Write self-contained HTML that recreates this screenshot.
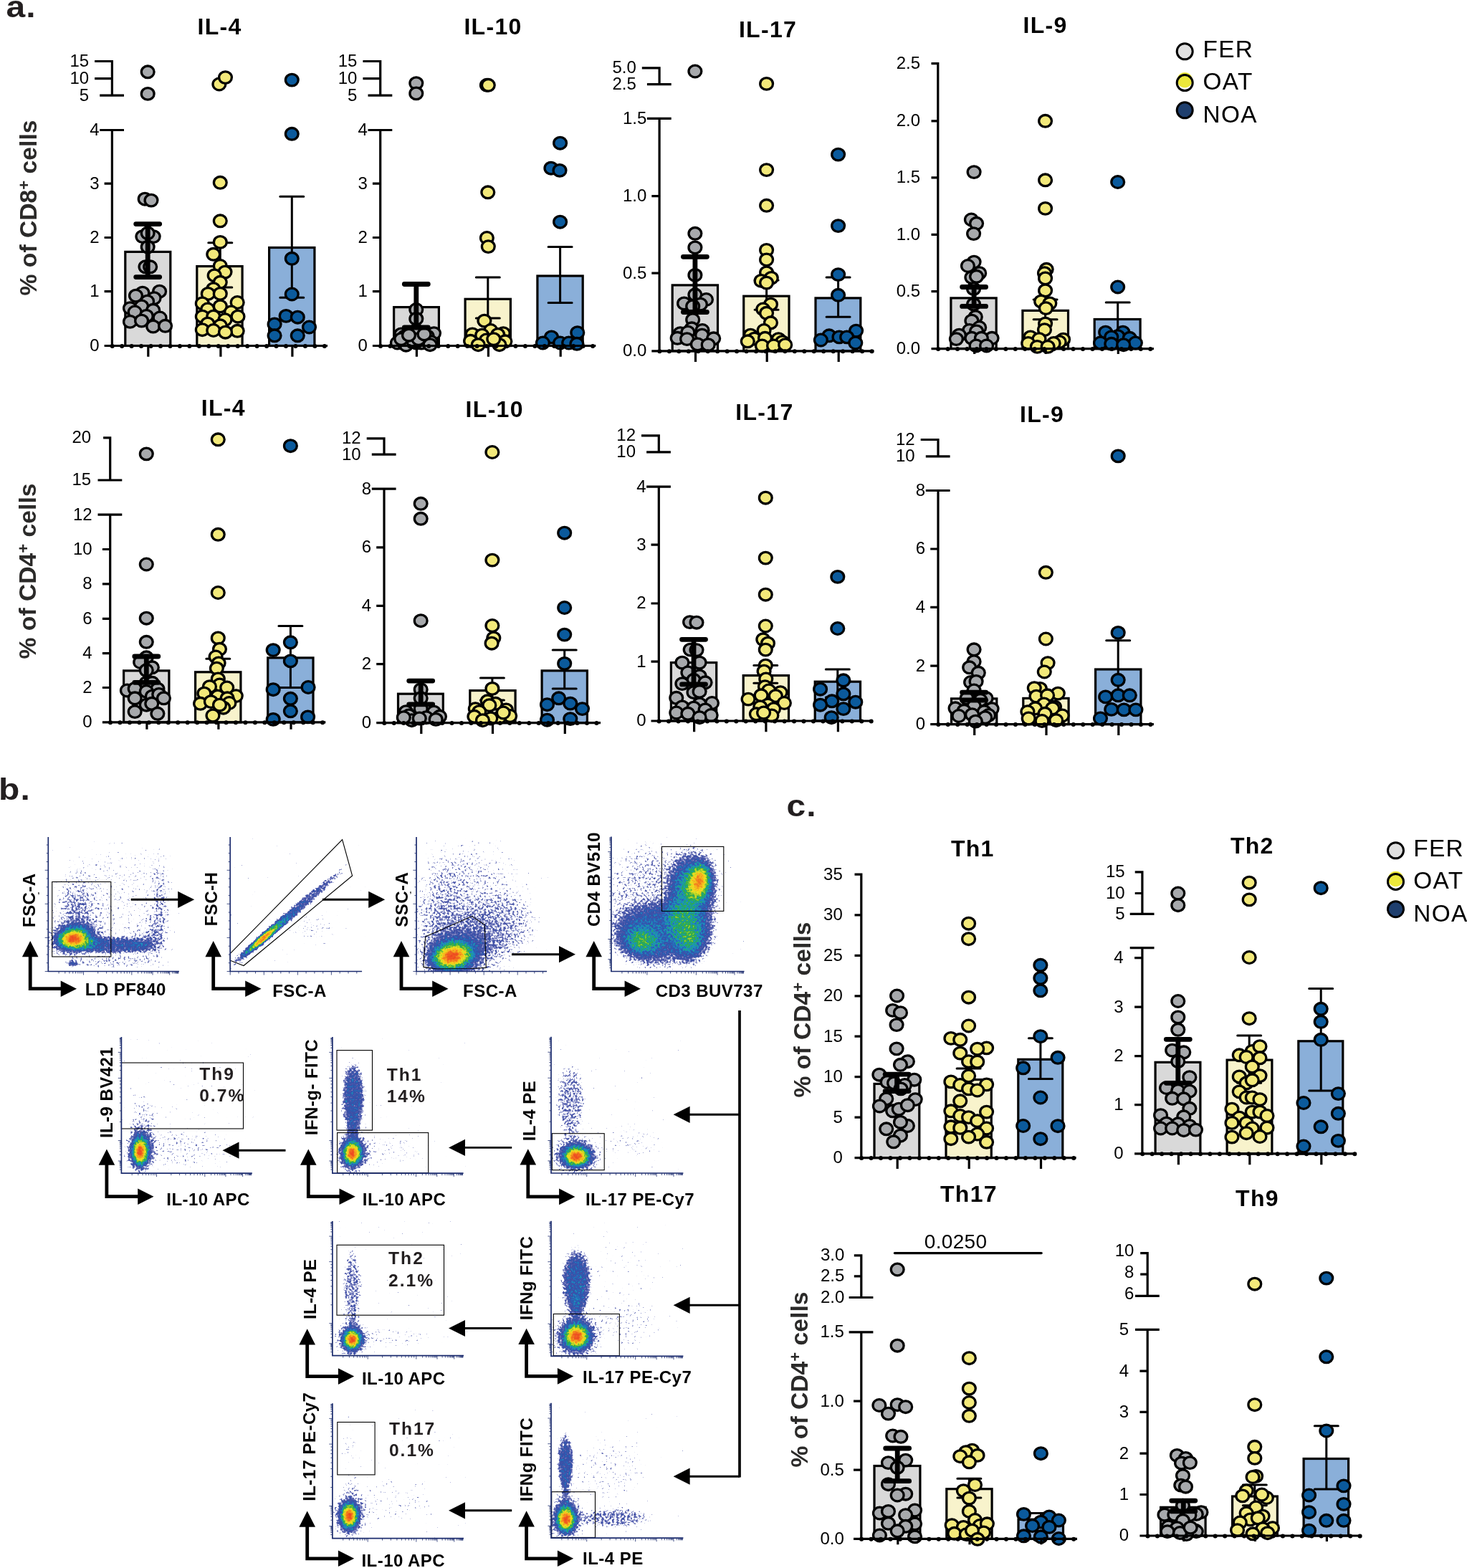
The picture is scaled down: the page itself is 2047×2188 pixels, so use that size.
<!DOCTYPE html>
<html><head><meta charset="utf-8"><title>Figure</title>
<style>
html,body{margin:0;padding:0;background:#fff}
svg{display:block}
text{font-family:"Liberation Sans",sans-serif;fill:#000}
.ttl{font-weight:bold;font-size:32px;letter-spacing:1.3px;text-anchor:middle}
.tl text{font-size:24px;text-anchor:end}
.sig{font-size:28px;letter-spacing:0.3px;text-anchor:middle}
.bar{stroke:#000;stroke-width:3.2}
.dot ellipse{stroke:#000;stroke-width:3.3}
.err{stroke:#000;fill:none;stroke-linecap:round}
.axl{stroke:#000;stroke-width:3.2;fill:none}
.axd{stroke:#000;stroke-width:6;stroke-linecap:round;stroke-dasharray:0.01 13.45;fill:none}
.yl{font-weight:bold;font-size:33.7px;fill:#2b2a29;text-anchor:middle}
.pl{font-weight:bold;font-size:42.5px;letter-spacing:1px;fill:#231f20}
.lg{font-size:33.4px;letter-spacing:1.3px}
.fl{font-weight:bold;font-size:24px;letter-spacing:0.45px}
.ft{font-weight:bold;font-size:24.6px;letter-spacing:2px;fill:#231f20}
.gate{fill:none;stroke:#000;stroke-width:1.1}
.fax{fill:none;stroke:#1c2c6e;stroke-width:1.7}
.ftk{fill:none;stroke:#1c2c6e;stroke-width:0.8}
.larr{fill:none;stroke:#000;stroke-width:4.8;stroke-linejoin:miter}
.arl{fill:none;stroke:#000;stroke-width:2.9}
</style></head><body>
<svg width="2047" height="2188" viewBox="0 0 2047 2188">
<defs>
<radialGradient id="G"><stop offset="0" stop-color="#3a50a8" stop-opacity="1"/><stop offset="0.083" stop-color="#3a50a8" stop-opacity="0.969"/><stop offset="0.167" stop-color="#3a50a8" stop-opacity="0.882"/><stop offset="0.25" stop-color="#3a50a8" stop-opacity="0.755"/><stop offset="0.333" stop-color="#3a50a8" stop-opacity="0.607"/><stop offset="0.417" stop-color="#3a50a8" stop-opacity="0.458"/><stop offset="0.5" stop-color="#3a50a8" stop-opacity="0.325"/><stop offset="0.583" stop-color="#3a50a8" stop-opacity="0.216"/><stop offset="0.667" stop-color="#3a50a8" stop-opacity="0.135"/><stop offset="0.75" stop-color="#3a50a8" stop-opacity="0.08"/><stop offset="0.833" stop-color="#3a50a8" stop-opacity="0.044"/><stop offset="0.917" stop-color="#3a50a8" stop-opacity="0.023"/><stop offset="1" stop-color="#3a50a8" stop-opacity="0"/></radialGradient><radialGradient id="F"><stop offset="0" stop-color="#3a50a8" stop-opacity="1"/><stop offset="0.5" stop-color="#3a50a8" stop-opacity="0.95"/><stop offset="0.7" stop-color="#3a50a8" stop-opacity="0.7"/><stop offset="0.85" stop-color="#3a50a8" stop-opacity="0.35"/><stop offset="1" stop-color="#3a50a8" stop-opacity="0"/></radialGradient><filter id="pc1" filterUnits="userSpaceOnUse" x="68.2" y="1168.5" width="186.1" height="186.1" color-interpolation-filters="sRGB"><feTurbulence type="fractalNoise" baseFrequency="0.33" numOctaves="2" seed="4" result="n"/><feColorMatrix in="n" type="matrix" values="0 0 0 0 0 0 0 0 0 0 0 0 0 0 0 1 0 0 0 0" result="a"/><feComposite in="SourceGraphic" in2="a" operator="arithmetic" k1="-0.58" k2="1.29" k3="0.7" k4="-0.41"/><feColorMatrix type="matrix" values="0 0 0 1 0 0 0 0 1 0 0 0 0 1 0 0 0 0 0 1"/><feComponentTransfer><feFuncR type="table" tableValues="1 1 1 1 1 1 1 1 1 0.81 0.63 0.53 0.44 0.37 0.33 0.28 0.25 0.24 0.22 0.2 0.19 0.17 0.16 0.14 0.13 0.11 0.11 0.12 0.13 0.16 0.2 0.34 0.48 0.61 0.72 0.83 0.94 0.95 0.95 0.96 0.96 0.96 0.95 0.95 0.94 0.94 0.93 0.93 0.93 0.92 0.92"/><feFuncG type="table" tableValues="1 1 1 1 1 1 1 1 1 0.82 0.65 0.56 0.47 0.41 0.37 0.33 0.32 0.32 0.32 0.33 0.36 0.38 0.41 0.47 0.52 0.58 0.61 0.63 0.65 0.66 0.67 0.72 0.76 0.8 0.83 0.86 0.89 0.84 0.78 0.72 0.67 0.59 0.51 0.44 0.36 0.33 0.3 0.27 0.25 0.22 0.19"/><feFuncB type="table" tableValues="1 1 1 1 1 1 1 1 1 0.92 0.83 0.78 0.73 0.7 0.68 0.66 0.65 0.66 0.67 0.67 0.69 0.71 0.73 0.73 0.74 0.75 0.65 0.54 0.45 0.36 0.27 0.24 0.21 0.18 0.16 0.14 0.12 0.12 0.12 0.12 0.12 0.12 0.12 0.12 0.13 0.13 0.13 0.13 0.13 0.13 0.13"/></feComponentTransfer><feGaussianBlur stdDeviation="0.75"/></filter><filter id="pc2" filterUnits="userSpaceOnUse" x="322.1" y="1168.5" width="187.4" height="186.1" color-interpolation-filters="sRGB"><feTurbulence type="fractalNoise" baseFrequency="0.33" numOctaves="2" seed="5" result="n"/><feColorMatrix in="n" type="matrix" values="0 0 0 0 0 0 0 0 0 0 0 0 0 0 0 1 0 0 0 0" result="a"/><feComposite in="SourceGraphic" in2="a" operator="arithmetic" k1="-0.58" k2="1.29" k3="0.7" k4="-0.41"/><feColorMatrix type="matrix" values="0 0 0 1 0 0 0 0 1 0 0 0 0 1 0 0 0 0 0 1"/><feComponentTransfer><feFuncR type="table" tableValues="1 1 1 1 1 1 1 1 1 0.81 0.63 0.53 0.44 0.37 0.33 0.28 0.25 0.24 0.22 0.2 0.19 0.17 0.16 0.14 0.13 0.11 0.11 0.12 0.13 0.16 0.2 0.34 0.48 0.61 0.72 0.83 0.94 0.95 0.95 0.96 0.96 0.96 0.95 0.95 0.94 0.94 0.93 0.93 0.93 0.92 0.92"/><feFuncG type="table" tableValues="1 1 1 1 1 1 1 1 1 0.82 0.65 0.56 0.47 0.41 0.37 0.33 0.32 0.32 0.32 0.33 0.36 0.38 0.41 0.47 0.52 0.58 0.61 0.63 0.65 0.66 0.67 0.72 0.76 0.8 0.83 0.86 0.89 0.84 0.78 0.72 0.67 0.59 0.51 0.44 0.36 0.33 0.3 0.27 0.25 0.22 0.19"/><feFuncB type="table" tableValues="1 1 1 1 1 1 1 1 1 0.92 0.83 0.78 0.73 0.7 0.68 0.66 0.65 0.66 0.67 0.67 0.69 0.71 0.73 0.73 0.74 0.75 0.65 0.54 0.45 0.36 0.27 0.24 0.21 0.18 0.16 0.14 0.12 0.12 0.12 0.12 0.12 0.12 0.12 0.12 0.13 0.13 0.13 0.13 0.13 0.13 0.13"/></feComponentTransfer><feGaussianBlur stdDeviation="0.75"/></filter><filter id="pc3" filterUnits="userSpaceOnUse" x="581.9" y="1168.5" width="185.6" height="186.1" color-interpolation-filters="sRGB"><feTurbulence type="fractalNoise" baseFrequency="0.33" numOctaves="2" seed="6" result="n"/><feColorMatrix in="n" type="matrix" values="0 0 0 0 0 0 0 0 0 0 0 0 0 0 0 1 0 0 0 0" result="a"/><feComposite in="SourceGraphic" in2="a" operator="arithmetic" k1="-0.58" k2="1.29" k3="0.7" k4="-0.41"/><feColorMatrix type="matrix" values="0 0 0 1 0 0 0 0 1 0 0 0 0 1 0 0 0 0 0 1"/><feComponentTransfer><feFuncR type="table" tableValues="1 1 1 1 1 1 1 1 1 0.81 0.63 0.53 0.44 0.37 0.33 0.28 0.25 0.24 0.22 0.2 0.19 0.17 0.16 0.14 0.13 0.11 0.11 0.12 0.13 0.16 0.2 0.34 0.48 0.61 0.72 0.83 0.94 0.95 0.95 0.96 0.96 0.96 0.95 0.95 0.94 0.94 0.93 0.93 0.93 0.92 0.92"/><feFuncG type="table" tableValues="1 1 1 1 1 1 1 1 1 0.82 0.65 0.56 0.47 0.41 0.37 0.33 0.32 0.32 0.32 0.33 0.36 0.38 0.41 0.47 0.52 0.58 0.61 0.63 0.65 0.66 0.67 0.72 0.76 0.8 0.83 0.86 0.89 0.84 0.78 0.72 0.67 0.59 0.51 0.44 0.36 0.33 0.3 0.27 0.25 0.22 0.19"/><feFuncB type="table" tableValues="1 1 1 1 1 1 1 1 1 0.92 0.83 0.78 0.73 0.7 0.68 0.66 0.65 0.66 0.67 0.67 0.69 0.71 0.73 0.73 0.74 0.75 0.65 0.54 0.45 0.36 0.27 0.24 0.21 0.18 0.16 0.14 0.12 0.12 0.12 0.12 0.12 0.12 0.12 0.12 0.13 0.13 0.13 0.13 0.13 0.13 0.13"/></feComponentTransfer><feGaussianBlur stdDeviation="0.75"/></filter><filter id="pc4" filterUnits="userSpaceOnUse" x="853.8" y="1168" width="189.1" height="186.6" color-interpolation-filters="sRGB"><feTurbulence type="fractalNoise" baseFrequency="0.33" numOctaves="2" seed="7" result="n"/><feColorMatrix in="n" type="matrix" values="0 0 0 0 0 0 0 0 0 0 0 0 0 0 0 1 0 0 0 0" result="a"/><feComposite in="SourceGraphic" in2="a" operator="arithmetic" k1="-0.58" k2="1.29" k3="0.7" k4="-0.41"/><feColorMatrix type="matrix" values="0 0 0 1 0 0 0 0 1 0 0 0 0 1 0 0 0 0 0 1"/><feComponentTransfer><feFuncR type="table" tableValues="1 1 1 1 1 1 1 1 1 0.81 0.63 0.53 0.44 0.37 0.33 0.28 0.25 0.24 0.22 0.2 0.19 0.17 0.16 0.14 0.13 0.11 0.11 0.12 0.13 0.16 0.2 0.34 0.48 0.61 0.72 0.83 0.94 0.95 0.95 0.96 0.96 0.96 0.95 0.95 0.94 0.94 0.93 0.93 0.93 0.92 0.92"/><feFuncG type="table" tableValues="1 1 1 1 1 1 1 1 1 0.82 0.65 0.56 0.47 0.41 0.37 0.33 0.32 0.32 0.32 0.33 0.36 0.38 0.41 0.47 0.52 0.58 0.61 0.63 0.65 0.66 0.67 0.72 0.76 0.8 0.83 0.86 0.89 0.84 0.78 0.72 0.67 0.59 0.51 0.44 0.36 0.33 0.3 0.27 0.25 0.22 0.19"/><feFuncB type="table" tableValues="1 1 1 1 1 1 1 1 1 0.92 0.83 0.78 0.73 0.7 0.68 0.66 0.65 0.66 0.67 0.67 0.69 0.71 0.73 0.73 0.74 0.75 0.65 0.54 0.45 0.36 0.27 0.24 0.21 0.18 0.16 0.14 0.12 0.12 0.12 0.12 0.12 0.12 0.12 0.12 0.13 0.13 0.13 0.13 0.13 0.13 0.13"/></feComponentTransfer><feGaussianBlur stdDeviation="0.75"/></filter><filter id="pc5" filterUnits="userSpaceOnUse" x="170.3" y="1447.6" width="185.9" height="188.6" color-interpolation-filters="sRGB"><feTurbulence type="fractalNoise" baseFrequency="0.33" numOctaves="2" seed="8" result="n"/><feColorMatrix in="n" type="matrix" values="0 0 0 0 0 0 0 0 0 0 0 0 0 0 0 1 0 0 0 0" result="a"/><feComposite in="SourceGraphic" in2="a" operator="arithmetic" k1="-0.58" k2="1.29" k3="0.7" k4="-0.41"/><feColorMatrix type="matrix" values="0 0 0 1 0 0 0 0 1 0 0 0 0 1 0 0 0 0 0 1"/><feComponentTransfer><feFuncR type="table" tableValues="1 1 1 1 1 1 1 1 1 0.81 0.63 0.53 0.44 0.37 0.33 0.28 0.25 0.24 0.22 0.2 0.19 0.17 0.16 0.14 0.13 0.11 0.11 0.12 0.13 0.16 0.2 0.34 0.48 0.61 0.72 0.83 0.94 0.95 0.95 0.96 0.96 0.96 0.95 0.95 0.94 0.94 0.93 0.93 0.93 0.92 0.92"/><feFuncG type="table" tableValues="1 1 1 1 1 1 1 1 1 0.82 0.65 0.56 0.47 0.41 0.37 0.33 0.32 0.32 0.32 0.33 0.36 0.38 0.41 0.47 0.52 0.58 0.61 0.63 0.65 0.66 0.67 0.72 0.76 0.8 0.83 0.86 0.89 0.84 0.78 0.72 0.67 0.59 0.51 0.44 0.36 0.33 0.3 0.27 0.25 0.22 0.19"/><feFuncB type="table" tableValues="1 1 1 1 1 1 1 1 1 0.92 0.83 0.78 0.73 0.7 0.68 0.66 0.65 0.66 0.67 0.67 0.69 0.71 0.73 0.73 0.74 0.75 0.65 0.54 0.45 0.36 0.27 0.24 0.21 0.18 0.16 0.14 0.12 0.12 0.12 0.12 0.12 0.12 0.12 0.12 0.13 0.13 0.13 0.13 0.13 0.13 0.13"/></feComponentTransfer><feGaussianBlur stdDeviation="0.75"/></filter><filter id="pc6" filterUnits="userSpaceOnUse" x="464.8" y="1447.6" width="186.2" height="188.6" color-interpolation-filters="sRGB"><feTurbulence type="fractalNoise" baseFrequency="0.33" numOctaves="2" seed="9" result="n"/><feColorMatrix in="n" type="matrix" values="0 0 0 0 0 0 0 0 0 0 0 0 0 0 0 1 0 0 0 0" result="a"/><feComposite in="SourceGraphic" in2="a" operator="arithmetic" k1="-0.58" k2="1.29" k3="0.7" k4="-0.41"/><feColorMatrix type="matrix" values="0 0 0 1 0 0 0 0 1 0 0 0 0 1 0 0 0 0 0 1"/><feComponentTransfer><feFuncR type="table" tableValues="1 1 1 1 1 1 1 1 1 0.81 0.63 0.53 0.44 0.37 0.33 0.28 0.25 0.24 0.22 0.2 0.19 0.17 0.16 0.14 0.13 0.11 0.11 0.12 0.13 0.16 0.2 0.34 0.48 0.61 0.72 0.83 0.94 0.95 0.95 0.96 0.96 0.96 0.95 0.95 0.94 0.94 0.93 0.93 0.93 0.92 0.92"/><feFuncG type="table" tableValues="1 1 1 1 1 1 1 1 1 0.82 0.65 0.56 0.47 0.41 0.37 0.33 0.32 0.32 0.32 0.33 0.36 0.38 0.41 0.47 0.52 0.58 0.61 0.63 0.65 0.66 0.67 0.72 0.76 0.8 0.83 0.86 0.89 0.84 0.78 0.72 0.67 0.59 0.51 0.44 0.36 0.33 0.3 0.27 0.25 0.22 0.19"/><feFuncB type="table" tableValues="1 1 1 1 1 1 1 1 1 0.92 0.83 0.78 0.73 0.7 0.68 0.66 0.65 0.66 0.67 0.67 0.69 0.71 0.73 0.73 0.74 0.75 0.65 0.54 0.45 0.36 0.27 0.24 0.21 0.18 0.16 0.14 0.12 0.12 0.12 0.12 0.12 0.12 0.12 0.12 0.13 0.13 0.13 0.13 0.13 0.13 0.13"/></feComponentTransfer><feGaussianBlur stdDeviation="0.75"/></filter><filter id="pc7" filterUnits="userSpaceOnUse" x="769.9" y="1447.3" width="187.9" height="188.8" color-interpolation-filters="sRGB"><feTurbulence type="fractalNoise" baseFrequency="0.33" numOctaves="2" seed="10" result="n"/><feColorMatrix in="n" type="matrix" values="0 0 0 0 0 0 0 0 0 0 0 0 0 0 0 1 0 0 0 0" result="a"/><feComposite in="SourceGraphic" in2="a" operator="arithmetic" k1="-0.58" k2="1.29" k3="0.7" k4="-0.41"/><feColorMatrix type="matrix" values="0 0 0 1 0 0 0 0 1 0 0 0 0 1 0 0 0 0 0 1"/><feComponentTransfer><feFuncR type="table" tableValues="1 1 1 1 1 1 1 1 1 0.81 0.63 0.53 0.44 0.37 0.33 0.28 0.25 0.24 0.22 0.2 0.19 0.17 0.16 0.14 0.13 0.11 0.11 0.12 0.13 0.16 0.2 0.34 0.48 0.61 0.72 0.83 0.94 0.95 0.95 0.96 0.96 0.96 0.95 0.95 0.94 0.94 0.93 0.93 0.93 0.92 0.92"/><feFuncG type="table" tableValues="1 1 1 1 1 1 1 1 1 0.82 0.65 0.56 0.47 0.41 0.37 0.33 0.32 0.32 0.32 0.33 0.36 0.38 0.41 0.47 0.52 0.58 0.61 0.63 0.65 0.66 0.67 0.72 0.76 0.8 0.83 0.86 0.89 0.84 0.78 0.72 0.67 0.59 0.51 0.44 0.36 0.33 0.3 0.27 0.25 0.22 0.19"/><feFuncB type="table" tableValues="1 1 1 1 1 1 1 1 1 0.92 0.83 0.78 0.73 0.7 0.68 0.66 0.65 0.66 0.67 0.67 0.69 0.71 0.73 0.73 0.74 0.75 0.65 0.54 0.45 0.36 0.27 0.24 0.21 0.18 0.16 0.14 0.12 0.12 0.12 0.12 0.12 0.12 0.12 0.12 0.13 0.13 0.13 0.13 0.13 0.13 0.13"/></feComponentTransfer><feGaussianBlur stdDeviation="0.75"/></filter><filter id="pc8" filterUnits="userSpaceOnUse" x="464.8" y="1704.5" width="186.6" height="186.2" color-interpolation-filters="sRGB"><feTurbulence type="fractalNoise" baseFrequency="0.33" numOctaves="2" seed="11" result="n"/><feColorMatrix in="n" type="matrix" values="0 0 0 0 0 0 0 0 0 0 0 0 0 0 0 1 0 0 0 0" result="a"/><feComposite in="SourceGraphic" in2="a" operator="arithmetic" k1="-0.58" k2="1.29" k3="0.7" k4="-0.41"/><feColorMatrix type="matrix" values="0 0 0 1 0 0 0 0 1 0 0 0 0 1 0 0 0 0 0 1"/><feComponentTransfer><feFuncR type="table" tableValues="1 1 1 1 1 1 1 1 1 0.81 0.63 0.53 0.44 0.37 0.33 0.28 0.25 0.24 0.22 0.2 0.19 0.17 0.16 0.14 0.13 0.11 0.11 0.12 0.13 0.16 0.2 0.34 0.48 0.61 0.72 0.83 0.94 0.95 0.95 0.96 0.96 0.96 0.95 0.95 0.94 0.94 0.93 0.93 0.93 0.92 0.92"/><feFuncG type="table" tableValues="1 1 1 1 1 1 1 1 1 0.82 0.65 0.56 0.47 0.41 0.37 0.33 0.32 0.32 0.32 0.33 0.36 0.38 0.41 0.47 0.52 0.58 0.61 0.63 0.65 0.66 0.67 0.72 0.76 0.8 0.83 0.86 0.89 0.84 0.78 0.72 0.67 0.59 0.51 0.44 0.36 0.33 0.3 0.27 0.25 0.22 0.19"/><feFuncB type="table" tableValues="1 1 1 1 1 1 1 1 1 0.92 0.83 0.78 0.73 0.7 0.68 0.66 0.65 0.66 0.67 0.67 0.69 0.71 0.73 0.73 0.74 0.75 0.65 0.54 0.45 0.36 0.27 0.24 0.21 0.18 0.16 0.14 0.12 0.12 0.12 0.12 0.12 0.12 0.12 0.12 0.13 0.13 0.13 0.13 0.13 0.13 0.13"/></feComponentTransfer><feGaussianBlur stdDeviation="0.75"/></filter><filter id="pc9" filterUnits="userSpaceOnUse" x="769.9" y="1704.3" width="187.9" height="187.1" color-interpolation-filters="sRGB"><feTurbulence type="fractalNoise" baseFrequency="0.33" numOctaves="2" seed="12" result="n"/><feColorMatrix in="n" type="matrix" values="0 0 0 0 0 0 0 0 0 0 0 0 0 0 0 1 0 0 0 0" result="a"/><feComposite in="SourceGraphic" in2="a" operator="arithmetic" k1="-0.58" k2="1.29" k3="0.7" k4="-0.41"/><feColorMatrix type="matrix" values="0 0 0 1 0 0 0 0 1 0 0 0 0 1 0 0 0 0 0 1"/><feComponentTransfer><feFuncR type="table" tableValues="1 1 1 1 1 1 1 1 1 0.81 0.63 0.53 0.44 0.37 0.33 0.28 0.25 0.24 0.22 0.2 0.19 0.17 0.16 0.14 0.13 0.11 0.11 0.12 0.13 0.16 0.2 0.34 0.48 0.61 0.72 0.83 0.94 0.95 0.95 0.96 0.96 0.96 0.95 0.95 0.94 0.94 0.93 0.93 0.93 0.92 0.92"/><feFuncG type="table" tableValues="1 1 1 1 1 1 1 1 1 0.82 0.65 0.56 0.47 0.41 0.37 0.33 0.32 0.32 0.32 0.33 0.36 0.38 0.41 0.47 0.52 0.58 0.61 0.63 0.65 0.66 0.67 0.72 0.76 0.8 0.83 0.86 0.89 0.84 0.78 0.72 0.67 0.59 0.51 0.44 0.36 0.33 0.3 0.27 0.25 0.22 0.19"/><feFuncB type="table" tableValues="1 1 1 1 1 1 1 1 1 0.92 0.83 0.78 0.73 0.7 0.68 0.66 0.65 0.66 0.67 0.67 0.69 0.71 0.73 0.73 0.74 0.75 0.65 0.54 0.45 0.36 0.27 0.24 0.21 0.18 0.16 0.14 0.12 0.12 0.12 0.12 0.12 0.12 0.12 0.12 0.13 0.13 0.13 0.13 0.13 0.13 0.13"/></feComponentTransfer><feGaussianBlur stdDeviation="0.75"/></filter><filter id="pc10" filterUnits="userSpaceOnUse" x="464.8" y="1958.7" width="186.6" height="187" color-interpolation-filters="sRGB"><feTurbulence type="fractalNoise" baseFrequency="0.33" numOctaves="2" seed="13" result="n"/><feColorMatrix in="n" type="matrix" values="0 0 0 0 0 0 0 0 0 0 0 0 0 0 0 1 0 0 0 0" result="a"/><feComposite in="SourceGraphic" in2="a" operator="arithmetic" k1="-0.58" k2="1.29" k3="0.7" k4="-0.41"/><feColorMatrix type="matrix" values="0 0 0 1 0 0 0 0 1 0 0 0 0 1 0 0 0 0 0 1"/><feComponentTransfer><feFuncR type="table" tableValues="1 1 1 1 1 1 1 1 1 0.81 0.63 0.53 0.44 0.37 0.33 0.28 0.25 0.24 0.22 0.2 0.19 0.17 0.16 0.14 0.13 0.11 0.11 0.12 0.13 0.16 0.2 0.34 0.48 0.61 0.72 0.83 0.94 0.95 0.95 0.96 0.96 0.96 0.95 0.95 0.94 0.94 0.93 0.93 0.93 0.92 0.92"/><feFuncG type="table" tableValues="1 1 1 1 1 1 1 1 1 0.82 0.65 0.56 0.47 0.41 0.37 0.33 0.32 0.32 0.32 0.33 0.36 0.38 0.41 0.47 0.52 0.58 0.61 0.63 0.65 0.66 0.67 0.72 0.76 0.8 0.83 0.86 0.89 0.84 0.78 0.72 0.67 0.59 0.51 0.44 0.36 0.33 0.3 0.27 0.25 0.22 0.19"/><feFuncB type="table" tableValues="1 1 1 1 1 1 1 1 1 0.92 0.83 0.78 0.73 0.7 0.68 0.66 0.65 0.66 0.67 0.67 0.69 0.71 0.73 0.73 0.74 0.75 0.65 0.54 0.45 0.36 0.27 0.24 0.21 0.18 0.16 0.14 0.12 0.12 0.12 0.12 0.12 0.12 0.12 0.12 0.13 0.13 0.13 0.13 0.13 0.13 0.13"/></feComponentTransfer><feGaussianBlur stdDeviation="0.75"/></filter><filter id="pc11" filterUnits="userSpaceOnUse" x="769.9" y="1958.3" width="187.9" height="187" color-interpolation-filters="sRGB"><feTurbulence type="fractalNoise" baseFrequency="0.33" numOctaves="2" seed="14" result="n"/><feColorMatrix in="n" type="matrix" values="0 0 0 0 0 0 0 0 0 0 0 0 0 0 0 1 0 0 0 0" result="a"/><feComposite in="SourceGraphic" in2="a" operator="arithmetic" k1="-0.58" k2="1.29" k3="0.7" k4="-0.41"/><feColorMatrix type="matrix" values="0 0 0 1 0 0 0 0 1 0 0 0 0 1 0 0 0 0 0 1"/><feComponentTransfer><feFuncR type="table" tableValues="1 1 1 1 1 1 1 1 1 0.81 0.63 0.53 0.44 0.37 0.33 0.28 0.25 0.24 0.22 0.2 0.19 0.17 0.16 0.14 0.13 0.11 0.11 0.12 0.13 0.16 0.2 0.34 0.48 0.61 0.72 0.83 0.94 0.95 0.95 0.96 0.96 0.96 0.95 0.95 0.94 0.94 0.93 0.93 0.93 0.92 0.92"/><feFuncG type="table" tableValues="1 1 1 1 1 1 1 1 1 0.82 0.65 0.56 0.47 0.41 0.37 0.33 0.32 0.32 0.32 0.33 0.36 0.38 0.41 0.47 0.52 0.58 0.61 0.63 0.65 0.66 0.67 0.72 0.76 0.8 0.83 0.86 0.89 0.84 0.78 0.72 0.67 0.59 0.51 0.44 0.36 0.33 0.3 0.27 0.25 0.22 0.19"/><feFuncB type="table" tableValues="1 1 1 1 1 1 1 1 1 0.92 0.83 0.78 0.73 0.7 0.68 0.66 0.65 0.66 0.67 0.67 0.69 0.71 0.73 0.73 0.74 0.75 0.65 0.54 0.45 0.36 0.27 0.24 0.21 0.18 0.16 0.14 0.12 0.12 0.12 0.12 0.12 0.12 0.12 0.12 0.13 0.13 0.13 0.13 0.13 0.13 0.13"/></feComponentTransfer><feGaussianBlur stdDeviation="0.75"/></filter>
</defs>
<rect width="2047" height="2188" fill="#fff"/>
<g><text x="306.5" y="47.8" class="ttl">IL-4</text><rect x="174.8" y="351.4" width="63" height="131.1" fill="#d9d9d9" class="bar"/><rect x="274.8" y="371.6" width="63.3" height="111" fill="#f8f3cc" class="bar"/><rect x="375.6" y="345.5" width="63.3" height="137" fill="#8aafd9" class="bar"/><path d="M189.7 312.6H222.7M189.7 386.6H222.7M206.2 312.6V386.6" class="err" stroke-width="3.0"/><path d="M290.8 338.7H323.8M290.8 401.1H323.8M307.3 338.7V401.1" class="err" stroke-width="3.0"/><path d="M390.8 274.2H423.8M390.8 415.3H423.8M407.3 274.2V415.3" class="err" stroke-width="3.0"/><g fill="#a7a9ac" class="dot"><ellipse cx="206.2" cy="100.3" rx="8.9" ry="8.3"/><ellipse cx="206.2" cy="130.9" rx="8.9" ry="8.3"/><ellipse cx="202.2" cy="277.7" rx="8.9" ry="8.3"/><ellipse cx="211" cy="279.6" rx="8.9" ry="8.3"/><ellipse cx="198.9" cy="330.1" rx="8.9" ry="8.3"/><ellipse cx="214.2" cy="330.1" rx="8.9" ry="8.3"/><ellipse cx="206.2" cy="325.3" rx="8.9" ry="8.3"/><ellipse cx="206.2" cy="344.6" rx="8.9" ry="8.3"/><ellipse cx="203" cy="372.3" rx="8.9" ry="8.3"/><ellipse cx="209.7" cy="372.3" rx="8.9" ry="8.3"/><ellipse cx="198.9" cy="408.6" rx="8.9" ry="8.3"/><ellipse cx="222.6" cy="406.7" rx="8.9" ry="8.3"/><ellipse cx="189.5" cy="412.6" rx="8.9" ry="8.3"/><ellipse cx="215.1" cy="416.1" rx="8.9" ry="8.3"/><ellipse cx="205.6" cy="420.7" rx="8.9" ry="8.3"/><ellipse cx="181.5" cy="430.1" rx="8.9" ry="8.3"/><ellipse cx="197.6" cy="427.4" rx="8.9" ry="8.3"/><ellipse cx="188.2" cy="435.5" rx="8.9" ry="8.3"/><ellipse cx="213.7" cy="432.8" rx="8.9" ry="8.3"/><ellipse cx="204.3" cy="440.9" rx="8.9" ry="8.3"/><ellipse cx="223.1" cy="443.5" rx="8.9" ry="8.3"/><ellipse cx="181.5" cy="448.9" rx="8.9" ry="8.3"/><ellipse cx="197.6" cy="447.6" rx="8.9" ry="8.3"/><ellipse cx="213.7" cy="455.6" rx="8.9" ry="8.3"/><ellipse cx="230.6" cy="454.8" rx="8.9" ry="8.3"/></g><g fill="#f3e97a" class="dot"><ellipse cx="305.9" cy="117.5" rx="8.9" ry="8.3"/><ellipse cx="314.5" cy="108.1" rx="8.9" ry="8.3"/><ellipse cx="307.3" cy="254.8" rx="8.9" ry="8.3"/><ellipse cx="307.3" cy="308.3" rx="8.9" ry="8.3"/><ellipse cx="307.3" cy="337.9" rx="8.9" ry="8.3"/><ellipse cx="297.8" cy="354.8" rx="8.9" ry="8.3"/><ellipse cx="307.3" cy="371" rx="8.9" ry="8.3"/><ellipse cx="314" cy="379.6" rx="8.9" ry="8.3"/><ellipse cx="299.2" cy="384.4" rx="8.9" ry="8.3"/><ellipse cx="307.3" cy="393.8" rx="8.9" ry="8.3"/><ellipse cx="297.8" cy="403.2" rx="8.9" ry="8.3"/><ellipse cx="290.3" cy="409.9" rx="8.9" ry="8.3"/><ellipse cx="307.3" cy="409.9" rx="8.9" ry="8.3"/><ellipse cx="282.3" cy="423.4" rx="8.9" ry="8.3"/><ellipse cx="331.2" cy="422" rx="8.9" ry="8.3"/><ellipse cx="289.8" cy="431.5" rx="8.9" ry="8.3"/><ellipse cx="307.3" cy="427.4" rx="8.9" ry="8.3"/><ellipse cx="322.6" cy="435.5" rx="8.9" ry="8.3"/><ellipse cx="282.3" cy="441.7" rx="8.9" ry="8.3"/><ellipse cx="297.8" cy="441.7" rx="8.9" ry="8.3"/><ellipse cx="332" cy="441.7" rx="8.9" ry="8.3"/><ellipse cx="314" cy="446.2" rx="8.9" ry="8.3"/><ellipse cx="289.8" cy="451.6" rx="8.9" ry="8.3"/><ellipse cx="307.3" cy="454.3" rx="8.9" ry="8.3"/><ellipse cx="282.3" cy="460.2" rx="8.9" ry="8.3"/><ellipse cx="297.8" cy="461" rx="8.9" ry="8.3"/><ellipse cx="331.2" cy="461.8" rx="8.9" ry="8.3"/><ellipse cx="314.5" cy="463.7" rx="8.9" ry="8.3"/></g><g fill="#0b5a9c" class="dot"><ellipse cx="407.3" cy="111.6" rx="8.9" ry="8.3"/><ellipse cx="407.3" cy="186.8" rx="8.9" ry="8.3"/><ellipse cx="407.3" cy="360.8" rx="8.9" ry="8.3"/><ellipse cx="407.3" cy="410.5" rx="8.9" ry="8.3"/><ellipse cx="399.2" cy="440.9" rx="8.9" ry="8.3"/><ellipse cx="415.3" cy="442.7" rx="8.9" ry="8.3"/><ellipse cx="383.1" cy="452.4" rx="8.9" ry="8.3"/><ellipse cx="431.5" cy="456.5" rx="8.9" ry="8.3"/><ellipse cx="383.1" cy="468.3" rx="8.9" ry="8.3"/><ellipse cx="415.3" cy="468.3" rx="8.9" ry="8.3"/></g><path d="M189.7 312.6H222.7M189.7 386.6H222.7M206.2 312.6V386.6" class="err" stroke-width="6.8"/><path d="M156.4 181.5V482.5M139.2 181.5H173M145.6 256.2H156.4M145.6 331.5H156.4M145.6 406.7H156.4M145.6 482.5H156.4M156.4 83.9V133.1M132.1 85.5H156.4M132.1 109.7H156.4M139.2 133.1H173M147.3 482.5H457M206.8 482.5V497.8M307.9 482.5V497.8M407.9 482.5V497.8" class="axl"/><path d="M156.7 482.9H459" class="axd"/><g class="tl"><text x="138.6" y="188.9">4</text><text x="138.6" y="263.6">3</text><text x="138.6" y="338.9">2</text><text x="138.6" y="414.1">1</text><text x="138.6" y="489.9">0</text><text x="124.1" y="92.9">15</text><text x="124.1" y="117.1">10</text><text x="124.1" y="140.5">5</text></g></g>
<g><text x="688" y="47.8" class="ttl">IL-10</text><rect x="549.6" y="428.6" width="62.8" height="54" fill="#d9d9d9" class="bar"/><rect x="649.1" y="417.3" width="63.3" height="65.3" fill="#f8f3cc" class="bar"/><rect x="749.9" y="385" width="63.3" height="97.5" fill="#8aafd9" class="bar"/><path d="M564.3 396.5H597.3M564.3 457H597.3M580.8 396.5V457" class="err" stroke-width="3.0"/><path d="M664.3 387.1H697.3M664.3 444.1H697.3M680.8 387.1V444.1" class="err" stroke-width="3.0"/><path d="M765.1 344.6H798.1M765.1 422.6H798.1M781.6 344.6V422.6" class="err" stroke-width="3.0"/><g fill="#a7a9ac" class="dot"><ellipse cx="580.8" cy="116.1" rx="8.9" ry="8.3"/><ellipse cx="580.8" cy="130.4" rx="8.9" ry="8.3"/><ellipse cx="580.8" cy="432" rx="8.9" ry="8.3"/><ellipse cx="580.8" cy="444.9" rx="8.9" ry="8.3"/><ellipse cx="580.8" cy="461" rx="8.9" ry="8.3"/><ellipse cx="559.8" cy="466.4" rx="8.9" ry="8.3"/><ellipse cx="605.5" cy="465.1" rx="8.9" ry="8.3"/><ellipse cx="596.1" cy="469.1" rx="8.9" ry="8.3"/><ellipse cx="565.2" cy="469.1" rx="8.9" ry="8.3"/><ellipse cx="573.2" cy="473.1" rx="8.9" ry="8.3"/><ellipse cx="594.7" cy="473.7" rx="8.9" ry="8.3"/><ellipse cx="554.4" cy="478.5" rx="8.9" ry="8.3"/><ellipse cx="566.5" cy="481.7" rx="8.9" ry="8.3"/><ellipse cx="580.8" cy="478.5" rx="8.9" ry="8.3"/><ellipse cx="588" cy="478.5" rx="8.9" ry="8.3"/><ellipse cx="601.5" cy="477.2" rx="8.9" ry="8.3"/><ellipse cx="577.3" cy="477.2" rx="8.9" ry="8.3"/><ellipse cx="584" cy="473.1" rx="8.9" ry="8.3"/><ellipse cx="559.8" cy="473.1" rx="8.9" ry="8.3"/><ellipse cx="570.5" cy="467.7" rx="8.9" ry="8.3"/><ellipse cx="592" cy="466.4" rx="8.9" ry="8.3"/><ellipse cx="600.1" cy="481.2" rx="8.9" ry="8.3"/></g><g fill="#f3e97a" class="dot"><ellipse cx="679.4" cy="118.8" rx="8.9" ry="8.3"/><ellipse cx="681.3" cy="118.8" rx="8.9" ry="8.3"/><ellipse cx="680.8" cy="268.3" rx="8.9" ry="8.3"/><ellipse cx="679.4" cy="332" rx="8.9" ry="8.3"/><ellipse cx="681.3" cy="344.1" rx="8.9" ry="8.3"/><ellipse cx="675.9" cy="447.6" rx="8.9" ry="8.3"/><ellipse cx="684.8" cy="461" rx="8.9" ry="8.3"/><ellipse cx="702.3" cy="465.1" rx="8.9" ry="8.3"/><ellipse cx="659.2" cy="466.4" rx="8.9" ry="8.3"/><ellipse cx="694.7" cy="466.9" rx="8.9" ry="8.3"/><ellipse cx="672.7" cy="467.7" rx="8.9" ry="8.3"/><ellipse cx="656.6" cy="475.8" rx="8.9" ry="8.3"/><ellipse cx="678.6" cy="474.5" rx="8.9" ry="8.3"/><ellipse cx="704.9" cy="476.3" rx="8.9" ry="8.3"/><ellipse cx="667.3" cy="481.2" rx="8.9" ry="8.3"/><ellipse cx="696.9" cy="481.2" rx="8.9" ry="8.3"/><ellipse cx="688.8" cy="473.1" rx="8.9" ry="8.3"/></g><g fill="#0b5a9c" class="dot"><ellipse cx="781.6" cy="199.7" rx="8.9" ry="8.3"/><ellipse cx="768.9" cy="234.7" rx="8.9" ry="8.3"/><ellipse cx="781" cy="237.9" rx="8.9" ry="8.3"/><ellipse cx="781.6" cy="309.7" rx="8.9" ry="8.3"/><ellipse cx="805.8" cy="464.2" rx="8.9" ry="8.3"/><ellipse cx="769.5" cy="470.4" rx="8.9" ry="8.3"/><ellipse cx="757.4" cy="478.5" rx="8.9" ry="8.3"/><ellipse cx="781.6" cy="478.5" rx="8.9" ry="8.3"/><ellipse cx="793.7" cy="478.5" rx="8.9" ry="8.3"/><ellipse cx="804.9" cy="479.8" rx="8.9" ry="8.3"/></g><path d="M564.3 396.5H597.3M564.3 457H597.3M580.8 396.5V457" class="err" stroke-width="6.8"/><path d="M530.7 181.5V482.5M513.5 181.5H547.3M519.9 256.2H530.7M519.9 331.5H530.7M519.9 406.7H530.7M519.9 482.5H530.7M530.7 83.9V133.1M506.4 85.5H530.7M506.4 109.7H530.7M513.5 133.1H547.3M521.7 482.5H831.3M581.4 482.5V497.8M681.4 482.5V497.8M782.2 482.5V497.8" class="axl"/><path d="M531 482.9H833.3" class="axd"/><g class="tl"><text x="512.9" y="188.9">4</text><text x="512.9" y="263.6">3</text><text x="512.9" y="338.9">2</text><text x="512.9" y="414.1">1</text><text x="512.9" y="489.9">0</text><text x="498.4" y="92.9">15</text><text x="498.4" y="117.1">10</text><text x="498.4" y="140.5">5</text></g></g>
<g><text x="1071.5" y="51.6" class="ttl">IL-17</text><rect x="938.2" y="397.9" width="63.3" height="91.9" fill="#d9d9d9" class="bar"/><rect x="1037.7" y="413.2" width="63.3" height="76.6" fill="#f8f3cc" class="bar"/><rect x="1138" y="415.9" width="62.8" height="73.9" fill="#8aafd9" class="bar"/><path d="M953.4 358.3H986.4M953.4 435.5H986.4M969.9 358.3V435.5" class="err" stroke-width="3.0"/><path d="M1053.1 391.1H1086.1M1053.1 432.3H1086.1M1069.6 391.1V432.3" class="err" stroke-width="3.0"/><path d="M1153.1 387.1H1186.1M1153.1 442.2H1186.1M1169.6 387.1V442.2" class="err" stroke-width="3.0"/><g fill="#a7a9ac" class="dot"><ellipse cx="969.9" cy="99.5" rx="8.9" ry="8.3"/><ellipse cx="969.9" cy="325.8" rx="8.9" ry="8.3"/><ellipse cx="969.9" cy="345.4" rx="8.9" ry="8.3"/><ellipse cx="969.9" cy="383.9" rx="8.9" ry="8.3"/><ellipse cx="969.9" cy="411.3" rx="8.9" ry="8.3"/><ellipse cx="985.5" cy="418" rx="8.9" ry="8.3"/><ellipse cx="954.6" cy="423.4" rx="8.9" ry="8.3"/><ellipse cx="977.4" cy="424.7" rx="8.9" ry="8.3"/><ellipse cx="966.7" cy="427.4" rx="8.9" ry="8.3"/><ellipse cx="966.7" cy="446.2" rx="8.9" ry="8.3"/><ellipse cx="965.3" cy="458.3" rx="8.9" ry="8.3"/><ellipse cx="980.1" cy="461" rx="8.9" ry="8.3"/><ellipse cx="949.2" cy="465.1" rx="8.9" ry="8.3"/><ellipse cx="959.9" cy="463.7" rx="8.9" ry="8.3"/><ellipse cx="979.6" cy="467.7" rx="8.9" ry="8.3"/><ellipse cx="945.2" cy="471.8" rx="8.9" ry="8.3"/><ellipse cx="995.7" cy="472.3" rx="8.9" ry="8.3"/><ellipse cx="958.6" cy="473.1" rx="8.9" ry="8.3"/><ellipse cx="973.4" cy="480.4" rx="8.9" ry="8.3"/><ellipse cx="988.2" cy="481.2" rx="8.9" ry="8.3"/></g><g fill="#f3e97a" class="dot"><ellipse cx="1069.6" cy="116.9" rx="8.9" ry="8.3"/><ellipse cx="1069.6" cy="237.1" rx="8.9" ry="8.3"/><ellipse cx="1069.6" cy="286.8" rx="8.9" ry="8.3"/><ellipse cx="1069.6" cy="348.9" rx="8.9" ry="8.3"/><ellipse cx="1069.6" cy="362.4" rx="8.9" ry="8.3"/><ellipse cx="1069.6" cy="380.4" rx="8.9" ry="8.3"/><ellipse cx="1076.3" cy="387.9" rx="8.9" ry="8.3"/><ellipse cx="1062.1" cy="391.9" rx="8.9" ry="8.3"/><ellipse cx="1069.6" cy="394.6" rx="8.9" ry="8.3"/><ellipse cx="1075.5" cy="424.7" rx="8.9" ry="8.3"/><ellipse cx="1064.8" cy="431.5" rx="8.9" ry="8.3"/><ellipse cx="1069.6" cy="436.8" rx="8.9" ry="8.3"/><ellipse cx="1075.5" cy="450.3" rx="8.9" ry="8.3"/><ellipse cx="1066.1" cy="461" rx="8.9" ry="8.3"/><ellipse cx="1047.3" cy="467.7" rx="8.9" ry="8.3"/><ellipse cx="1052.7" cy="472.6" rx="8.9" ry="8.3"/><ellipse cx="1067.5" cy="471.8" rx="8.9" ry="8.3"/><ellipse cx="1086.3" cy="473.1" rx="8.9" ry="8.3"/><ellipse cx="1043.3" cy="476.3" rx="8.9" ry="8.3"/><ellipse cx="1091.7" cy="477.2" rx="8.9" ry="8.3"/><ellipse cx="1063.4" cy="482.5" rx="8.9" ry="8.3"/><ellipse cx="1079.6" cy="482.5" rx="8.9" ry="8.3"/><ellipse cx="1095.7" cy="481.2" rx="8.9" ry="8.3"/></g><g fill="#0b5a9c" class="dot"><ellipse cx="1169.6" cy="215.6" rx="8.9" ry="8.3"/><ellipse cx="1169.6" cy="315.1" rx="8.9" ry="8.3"/><ellipse cx="1169.6" cy="383.1" rx="8.9" ry="8.3"/><ellipse cx="1169.6" cy="411.8" rx="8.9" ry="8.3"/><ellipse cx="1194.6" cy="461.6" rx="8.9" ry="8.3"/><ellipse cx="1157" cy="468.3" rx="8.9" ry="8.3"/><ellipse cx="1171" cy="470.4" rx="8.9" ry="8.3"/><ellipse cx="1181.7" cy="470.4" rx="8.9" ry="8.3"/><ellipse cx="1145.4" cy="474.5" rx="8.9" ry="8.3"/><ellipse cx="1193.8" cy="478.5" rx="8.9" ry="8.3"/></g><path d="M953.4 358.3H986.4M953.4 435.5H986.4M969.9 358.3V435.5" class="err" stroke-width="6.8"/><path d="M920.1 165.3V489.8M902.9 165.3H936.7M909.3 273.7H920.1M909.3 381.2H920.1M909.3 489.8H920.1M920.1 93.3V117.7M895.8 94.9H920.1M902.9 117.7H936.7M911.1 489.8H1219.4M970.5 489.8V505.1M1070.2 489.8V505.1M1170.2 489.8V505.1" class="axl"/><path d="M920.4 490.2H1221.4" class="axd"/><g class="tl"><text x="902.3" y="172.7">1.5</text><text x="902.3" y="281.1">1.0</text><text x="902.3" y="388.6">0.5</text><text x="902.3" y="497.2">0.0</text><text x="887.8" y="102.3">5.0</text><text x="887.8" y="125.1">2.5</text></g></g>
<g><text x="1458.6" y="45.7" class="ttl">IL-9</text><rect x="1326.9" y="415.9" width="63.3" height="70.6" fill="#d9d9d9" class="bar"/><rect x="1426.9" y="433.4" width="63.6" height="53.2" fill="#f8f3cc" class="bar"/><rect x="1527.2" y="445.5" width="63.9" height="41.1" fill="#8aafd9" class="bar"/><path d="M1342.6 400.5H1375.6M1342.6 427.4H1375.6M1359.1 400.5V427.4" class="err" stroke-width="3.0"/><path d="M1442.1 418H1475.1M1442.1 445.7H1475.1M1458.6 418V445.7" class="err" stroke-width="3.0"/><path d="M1543.2 422H1576.2M1543.2 466.4H1576.2M1559.7 422V466.4" class="err" stroke-width="3.0"/><g fill="#a7a9ac" class="dot"><ellipse cx="1359.1" cy="240.1" rx="8.9" ry="8.3"/><ellipse cx="1355.4" cy="306.5" rx="8.9" ry="8.3"/><ellipse cx="1362.6" cy="311.8" rx="8.9" ry="8.3"/><ellipse cx="1358.6" cy="326.1" rx="8.9" ry="8.3"/><ellipse cx="1359.1" cy="365.6" rx="8.9" ry="8.3"/><ellipse cx="1350.5" cy="371" rx="8.9" ry="8.3"/><ellipse cx="1366.7" cy="381.2" rx="8.9" ry="8.3"/><ellipse cx="1355.9" cy="387.1" rx="8.9" ry="8.3"/><ellipse cx="1362.6" cy="385.8" rx="8.9" ry="8.3"/><ellipse cx="1358.6" cy="403.2" rx="8.9" ry="8.3"/><ellipse cx="1358.6" cy="424.7" rx="8.9" ry="8.3"/><ellipse cx="1361.3" cy="442.2" rx="8.9" ry="8.3"/><ellipse cx="1355.9" cy="447.6" rx="8.9" ry="8.3"/><ellipse cx="1366.7" cy="457" rx="8.9" ry="8.3"/><ellipse cx="1352.7" cy="461" rx="8.9" ry="8.3"/><ellipse cx="1362.6" cy="462.4" rx="8.9" ry="8.3"/><ellipse cx="1338.4" cy="467.7" rx="8.9" ry="8.3"/><ellipse cx="1384.1" cy="471.8" rx="8.9" ry="8.3"/><ellipse cx="1334.4" cy="473.1" rx="8.9" ry="8.3"/><ellipse cx="1355.9" cy="471.8" rx="8.9" ry="8.3"/><ellipse cx="1369.4" cy="471.8" rx="8.9" ry="8.3"/><ellipse cx="1362.1" cy="482.5" rx="8.9" ry="8.3"/><ellipse cx="1376.6" cy="482.5" rx="8.9" ry="8.3"/></g><g fill="#f3e97a" class="dot"><ellipse cx="1458.6" cy="168.8" rx="8.9" ry="8.3"/><ellipse cx="1458.6" cy="251.3" rx="8.9" ry="8.3"/><ellipse cx="1458.6" cy="290.9" rx="8.9" ry="8.3"/><ellipse cx="1460.2" cy="375.8" rx="8.9" ry="8.3"/><ellipse cx="1457.5" cy="381.2" rx="8.9" ry="8.3"/><ellipse cx="1458.6" cy="388.4" rx="8.9" ry="8.3"/><ellipse cx="1458.6" cy="405.4" rx="8.9" ry="8.3"/><ellipse cx="1452.7" cy="420.7" rx="8.9" ry="8.3"/><ellipse cx="1464.8" cy="423.4" rx="8.9" ry="8.3"/><ellipse cx="1459.4" cy="430.1" rx="8.9" ry="8.3"/><ellipse cx="1458.6" cy="451.6" rx="8.9" ry="8.3"/><ellipse cx="1457.5" cy="460.2" rx="8.9" ry="8.3"/><ellipse cx="1437.9" cy="470.4" rx="8.9" ry="8.3"/><ellipse cx="1483.6" cy="473.7" rx="8.9" ry="8.3"/><ellipse cx="1450" cy="473.1" rx="8.9" ry="8.3"/><ellipse cx="1478.2" cy="477.2" rx="8.9" ry="8.3"/><ellipse cx="1434.7" cy="479" rx="8.9" ry="8.3"/><ellipse cx="1470.2" cy="479" rx="8.9" ry="8.3"/><ellipse cx="1447.3" cy="483.9" rx="8.9" ry="8.3"/><ellipse cx="1462.1" cy="483.9" rx="8.9" ry="8.3"/></g><g fill="#0b5a9c" class="dot"><ellipse cx="1559.7" cy="254" rx="8.9" ry="8.3"/><ellipse cx="1559.7" cy="400.5" rx="8.9" ry="8.3"/><ellipse cx="1542.7" cy="463.7" rx="8.9" ry="8.3"/><ellipse cx="1566.9" cy="463.7" rx="8.9" ry="8.3"/><ellipse cx="1559.7" cy="469.1" rx="8.9" ry="8.3"/><ellipse cx="1550.8" cy="470.4" rx="8.9" ry="8.3"/><ellipse cx="1576.3" cy="471.8" rx="8.9" ry="8.3"/><ellipse cx="1535.5" cy="478.5" rx="8.9" ry="8.3"/><ellipse cx="1584.4" cy="478.5" rx="8.9" ry="8.3"/><ellipse cx="1550.8" cy="479.8" rx="8.9" ry="8.3"/><ellipse cx="1567.7" cy="481.2" rx="8.9" ry="8.3"/></g><path d="M1342.6 400.5H1375.6M1342.6 427.4H1375.6M1359.1 400.5V427.4" class="err" stroke-width="6.8"/><path d="M1308.8 87.1V486.6M1299.5 88.7H1308.8M1299.5 168.8H1308.8M1299.5 247.8H1308.8M1299.5 327.4H1308.8M1299.5 406.7H1308.8M1299.5 486.6H1308.8M1300.3 486.6H1609.9M1359.7 486.6V494.1M1459.2 486.6V494.1M1560.3 486.6V494.1" class="axl"/><path d="M1309.1 487H1611.9" class="axd"/><g class="tl"><text x="1284.1" y="96.1">2.5</text><text x="1284.1" y="176.2">2.0</text><text x="1284.1" y="255.2">1.5</text><text x="1284.1" y="334.8">1.0</text><text x="1284.1" y="414.1">0.5</text><text x="1284.1" y="494">0.0</text></g></g>
<g><text x="311.8" y="579.7" class="ttl">IL-4</text><rect x="172.6" y="935.9" width="63.3" height="72" fill="#d9d9d9" class="bar"/><rect x="272.6" y="937.8" width="63.3" height="70.1" fill="#f8f3cc" class="bar"/><rect x="373.7" y="917.9" width="63.3" height="90" fill="#8aafd9" class="bar"/><path d="M187.8 916H220.8M187.8 952.3H220.8M204.3 916V952.3" class="err" stroke-width="3.0"/><path d="M287.8 919.2H320.8M287.8 955.5H320.8M304.3 919.2V955.5" class="err" stroke-width="3.0"/><path d="M388.9 873.5H421.9M388.9 959.5H421.9M405.4 873.5V959.5" class="err" stroke-width="3.0"/><g fill="#a7a9ac" class="dot"><ellipse cx="204.3" cy="633.4" rx="8.9" ry="8.3"/><ellipse cx="204.3" cy="787.5" rx="8.9" ry="8.3"/><ellipse cx="204.3" cy="862.7" rx="8.9" ry="8.3"/><ellipse cx="204.3" cy="895.8" rx="8.9" ry="8.3"/><ellipse cx="204.3" cy="917.3" rx="8.9" ry="8.3"/><ellipse cx="195.7" cy="924" rx="8.9" ry="8.3"/><ellipse cx="212.4" cy="931.3" rx="8.9" ry="8.3"/><ellipse cx="204.3" cy="935.3" rx="8.9" ry="8.3"/><ellipse cx="204.3" cy="952.8" rx="8.9" ry="8.3"/><ellipse cx="212.4" cy="952.8" rx="8.9" ry="8.3"/><ellipse cx="177.4" cy="963.5" rx="8.9" ry="8.3"/><ellipse cx="188.2" cy="960.9" rx="8.9" ry="8.3"/><ellipse cx="219.9" cy="961.4" rx="8.9" ry="8.3"/><ellipse cx="204.3" cy="964.9" rx="8.9" ry="8.3"/><ellipse cx="212.4" cy="971.6" rx="8.9" ry="8.3"/><ellipse cx="221.8" cy="968.9" rx="8.9" ry="8.3"/><ellipse cx="188.2" cy="974.3" rx="8.9" ry="8.3"/><ellipse cx="228.5" cy="974.3" rx="8.9" ry="8.3"/><ellipse cx="204.3" cy="983.7" rx="8.9" ry="8.3"/><ellipse cx="211.8" cy="981.8" rx="8.9" ry="8.3"/><ellipse cx="188.2" cy="993.1" rx="8.9" ry="8.3"/><ellipse cx="219.9" cy="995.8" rx="8.9" ry="8.3"/></g><g fill="#f3e97a" class="dot"><ellipse cx="304.3" cy="613.3" rx="8.9" ry="8.3"/><ellipse cx="304.3" cy="745.8" rx="8.9" ry="8.3"/><ellipse cx="304.3" cy="827" rx="8.9" ry="8.3"/><ellipse cx="304.3" cy="890.4" rx="8.9" ry="8.3"/><ellipse cx="306.5" cy="905.8" rx="8.9" ry="8.3"/><ellipse cx="301.1" cy="916.5" rx="8.9" ry="8.3"/><ellipse cx="305.1" cy="925.4" rx="8.9" ry="8.3"/><ellipse cx="302.4" cy="932.6" rx="8.9" ry="8.3"/><ellipse cx="304.3" cy="947.4" rx="8.9" ry="8.3"/><ellipse cx="306.5" cy="955.5" rx="8.9" ry="8.3"/><ellipse cx="292.5" cy="958.2" rx="8.9" ry="8.3"/><ellipse cx="316.7" cy="959.5" rx="8.9" ry="8.3"/><ellipse cx="284.9" cy="967.6" rx="8.9" ry="8.3"/><ellipse cx="329.3" cy="971.1" rx="8.9" ry="8.3"/><ellipse cx="303.8" cy="971.6" rx="8.9" ry="8.3"/><ellipse cx="317.2" cy="974.3" rx="8.9" ry="8.3"/><ellipse cx="279.6" cy="981.8" rx="8.9" ry="8.3"/><ellipse cx="294.4" cy="979.1" rx="8.9" ry="8.3"/><ellipse cx="319.9" cy="981" rx="8.9" ry="8.3"/><ellipse cx="311.8" cy="987.7" rx="8.9" ry="8.3"/><ellipse cx="306.5" cy="983.7" rx="8.9" ry="8.3"/><ellipse cx="297" cy="998.5" rx="8.9" ry="8.3"/></g><g fill="#0b5a9c" class="dot"><ellipse cx="405.4" cy="622.2" rx="8.9" ry="8.3"/><ellipse cx="405.4" cy="896.3" rx="8.9" ry="8.3"/><ellipse cx="381.2" cy="907.1" rx="8.9" ry="8.3"/><ellipse cx="405.4" cy="922.4" rx="8.9" ry="8.3"/><ellipse cx="381.2" cy="962.2" rx="8.9" ry="8.3"/><ellipse cx="430.1" cy="959" rx="8.9" ry="8.3"/><ellipse cx="405.4" cy="974.8" rx="8.9" ry="8.3"/><ellipse cx="405.4" cy="992.3" rx="8.9" ry="8.3"/><ellipse cx="381.2" cy="1003.9" rx="8.9" ry="8.3"/><ellipse cx="429.6" cy="1000.4" rx="8.9" ry="8.3"/></g><path d="M187.8 916H220.8M187.8 952.3H220.8M204.3 916V952.3" class="err" stroke-width="6.8"/><path d="M153.7 718.1V1007.9M136.5 718.1H170.3M142.9 766.5H153.7M142.9 814.9H153.7M142.9 863.3H153.7M142.9 911.7H153.7M142.9 959.5H153.7M142.9 1007.9H153.7M153.7 609.3V670M144.1 610.9H153.7M136.5 670H170.3M144.7 1007.9H454.3M204.9 1007.9V1017.7M304.9 1007.9V1017.7M406 1007.9V1017.7" class="axl"/><path d="M154 1008.3H456.3" class="axd"/><g class="tl"><text x="128.7" y="725.5">12</text><text x="128.7" y="773.9">10</text><text x="128.7" y="822.3">8</text><text x="128.7" y="870.7">6</text><text x="128.7" y="919.1">4</text><text x="128.7" y="966.9">2</text><text x="128.7" y="1015.3">0</text><text x="127.2" y="618.3">20</text><text x="127.2" y="677.4">15</text></g></g>
<g><text x="690.2" y="582.4" class="ttl">IL-10</text><rect x="555.5" y="968.2" width="62.8" height="40.5" fill="#d9d9d9" class="bar"/><rect x="655.8" y="963.6" width="63.3" height="45.1" fill="#f8f3cc" class="bar"/><rect x="756.1" y="935.9" width="63.3" height="72.8" fill="#8aafd9" class="bar"/><path d="M570.7 950.1H603.7M570.7 982.9H603.7M587.2 950.1V982.9" class="err" stroke-width="3.0"/><path d="M670.4 946.1H703.4M670.4 977H703.4M686.9 946.1V977" class="err" stroke-width="3.0"/><path d="M771.2 907.1H804.2M771.2 960.9H804.2M787.7 907.1V960.9" class="err" stroke-width="3.0"/><g fill="#a7a9ac" class="dot"><ellipse cx="587.2" cy="702.8" rx="8.9" ry="8.3"/><ellipse cx="587.2" cy="723.8" rx="8.9" ry="8.3"/><ellipse cx="587.2" cy="866.2" rx="8.9" ry="8.3"/><ellipse cx="587.2" cy="962.2" rx="8.9" ry="8.3"/><ellipse cx="587.2" cy="974.3" rx="8.9" ry="8.3"/><ellipse cx="587.2" cy="989.1" rx="8.9" ry="8.3"/><ellipse cx="566.5" cy="993.1" rx="8.9" ry="8.3"/><ellipse cx="605.5" cy="993.7" rx="8.9" ry="8.3"/><ellipse cx="570.5" cy="998.5" rx="8.9" ry="8.3"/><ellipse cx="613.5" cy="999.8" rx="8.9" ry="8.3"/><ellipse cx="574.6" cy="1005.2" rx="8.9" ry="8.3"/><ellipse cx="594.7" cy="1001.2" rx="8.9" ry="8.3"/><ellipse cx="563.3" cy="1001.2" rx="8.9" ry="8.3"/><ellipse cx="585.3" cy="1002.5" rx="8.9" ry="8.3"/><ellipse cx="608.2" cy="1003.9" rx="8.9" ry="8.3"/></g><g fill="#f3e97a" class="dot"><ellipse cx="686.9" cy="631" rx="8.9" ry="8.3"/><ellipse cx="686.9" cy="781.6" rx="8.9" ry="8.3"/><ellipse cx="686.9" cy="873" rx="8.9" ry="8.3"/><ellipse cx="688.8" cy="890.4" rx="8.9" ry="8.3"/><ellipse cx="686.1" cy="897.7" rx="8.9" ry="8.3"/><ellipse cx="686.9" cy="960.9" rx="8.9" ry="8.3"/><ellipse cx="680.2" cy="978.3" rx="8.9" ry="8.3"/><ellipse cx="691.5" cy="981.8" rx="8.9" ry="8.3"/><ellipse cx="663.3" cy="989.1" rx="8.9" ry="8.3"/><ellipse cx="706.3" cy="990.4" rx="8.9" ry="8.3"/><ellipse cx="682.9" cy="984.2" rx="8.9" ry="8.3"/><ellipse cx="668.7" cy="993.1" rx="8.9" ry="8.3"/><ellipse cx="661.9" cy="999.8" rx="8.9" ry="8.3"/><ellipse cx="711.7" cy="999" rx="8.9" ry="8.3"/><ellipse cx="696.9" cy="1001.2" rx="8.9" ry="8.3"/><ellipse cx="684.8" cy="1002.5" rx="8.9" ry="8.3"/><ellipse cx="702.3" cy="994.5" rx="8.9" ry="8.3"/><ellipse cx="673.5" cy="1005.2" rx="8.9" ry="8.3"/></g><g fill="#0b5a9c" class="dot"><ellipse cx="787.7" cy="743.7" rx="8.9" ry="8.3"/><ellipse cx="787.7" cy="848" rx="8.9" ry="8.3"/><ellipse cx="787.7" cy="885.6" rx="8.9" ry="8.3"/><ellipse cx="787.7" cy="925.9" rx="8.9" ry="8.3"/><ellipse cx="779.7" cy="974.3" rx="8.9" ry="8.3"/><ellipse cx="763.5" cy="983.2" rx="8.9" ry="8.3"/><ellipse cx="795.8" cy="981.6" rx="8.9" ry="8.3"/><ellipse cx="812.5" cy="989.1" rx="8.9" ry="8.3"/><ellipse cx="763.5" cy="1004.7" rx="8.9" ry="8.3"/><ellipse cx="795.8" cy="1003.1" rx="8.9" ry="8.3"/></g><path d="M570.7 950.1H603.7M570.7 982.9H603.7M587.2 950.1V982.9" class="err" stroke-width="6.8"/><path d="M536 682.1V1008.7M518.8 682.1H552.6M525.2 763.8H536M525.2 845.3H536M525.2 926.7H536M525.2 1008.7H536M536 610.3V634.2M511.7 611.9H536M518.8 634.2H552.6M527 1008.7H838M587.8 1008.7V1024M687.5 1008.7V1024M788.3 1008.7V1024" class="axl"/><path d="M536.3 1009.1H840" class="axd"/><g class="tl"><text x="518.2" y="689.5">8</text><text x="518.2" y="771.2">6</text><text x="518.2" y="852.7">4</text><text x="518.2" y="934.1">2</text><text x="518.2" y="1016.1">0</text><text x="503.7" y="619.3">12</text><text x="503.7" y="641.6">10</text></g></g>
<g><text x="1066.9" y="586.4" class="ttl">IL-17</text><rect x="936.4" y="924.6" width="63.3" height="81.4" fill="#d9d9d9" class="bar"/><rect x="1037.2" y="942.6" width="63.3" height="63.4" fill="#f8f3cc" class="bar"/><rect x="1137.2" y="951.2" width="63.3" height="54.8" fill="#8aafd9" class="bar"/><path d="M951.5 892.3H984.5M951.5 954.9H984.5M968 892.3V954.9" class="err" stroke-width="3.0"/><path d="M1051.8 928.6H1084.8M1051.8 953.3H1084.8M1068.3 928.6V953.3" class="err" stroke-width="3.0"/><path d="M1152.3 934H1185.3M1152.3 973H1185.3M1168.8 934V973" class="err" stroke-width="3.0"/><g fill="#a7a9ac" class="dot"><ellipse cx="962.6" cy="868.1" rx="8.9" ry="8.3"/><ellipse cx="972" cy="868.7" rx="8.9" ry="8.3"/><ellipse cx="963.2" cy="906.6" rx="8.9" ry="8.3"/><ellipse cx="972" cy="907.1" rx="8.9" ry="8.3"/><ellipse cx="951.9" cy="924.6" rx="8.9" ry="8.3"/><ellipse cx="976.1" cy="924.6" rx="8.9" ry="8.3"/><ellipse cx="959.9" cy="938.5" rx="8.9" ry="8.3"/><ellipse cx="976.1" cy="943.4" rx="8.9" ry="8.3"/><ellipse cx="968" cy="948.8" rx="8.9" ry="8.3"/><ellipse cx="951.9" cy="954.1" rx="8.9" ry="8.3"/><ellipse cx="984.1" cy="952.3" rx="8.9" ry="8.3"/><ellipse cx="968" cy="966.2" rx="8.9" ry="8.3"/><ellipse cx="976.1" cy="964.9" rx="8.9" ry="8.3"/><ellipse cx="943.8" cy="973.8" rx="8.9" ry="8.3"/><ellipse cx="993.5" cy="981" rx="8.9" ry="8.3"/><ellipse cx="976.1" cy="982.4" rx="8.9" ry="8.3"/><ellipse cx="951.9" cy="986.4" rx="8.9" ry="8.3"/><ellipse cx="968" cy="987.7" rx="8.9" ry="8.3"/><ellipse cx="984.1" cy="990.4" rx="8.9" ry="8.3"/><ellipse cx="943.8" cy="994.5" rx="8.9" ry="8.3"/><ellipse cx="959.9" cy="995.8" rx="8.9" ry="8.3"/><ellipse cx="992.2" cy="998" rx="8.9" ry="8.3"/><ellipse cx="976.1" cy="1001.2" rx="8.9" ry="8.3"/></g><g fill="#f3e97a" class="dot"><ellipse cx="1068.3" cy="694.7" rx="8.9" ry="8.3"/><ellipse cx="1068.3" cy="778.6" rx="8.9" ry="8.3"/><ellipse cx="1068.3" cy="829.7" rx="8.9" ry="8.3"/><ellipse cx="1068.3" cy="873.5" rx="8.9" ry="8.3"/><ellipse cx="1064.8" cy="892.3" rx="8.9" ry="8.3"/><ellipse cx="1071.5" cy="897.7" rx="8.9" ry="8.3"/><ellipse cx="1068.3" cy="906.6" rx="8.9" ry="8.3"/><ellipse cx="1068.3" cy="928.6" rx="8.9" ry="8.3"/><ellipse cx="1066.1" cy="936.7" rx="8.9" ry="8.3"/><ellipse cx="1068.8" cy="947.4" rx="8.9" ry="8.3"/><ellipse cx="1067.5" cy="958.2" rx="8.9" ry="8.3"/><ellipse cx="1089" cy="966.2" rx="8.9" ry="8.3"/><ellipse cx="1072.8" cy="963.5" rx="8.9" ry="8.3"/><ellipse cx="1062.1" cy="970.3" rx="8.9" ry="8.3"/><ellipse cx="1082.3" cy="971.1" rx="8.9" ry="8.3"/><ellipse cx="1044.1" cy="975.6" rx="8.9" ry="8.3"/><ellipse cx="1094.4" cy="981" rx="8.9" ry="8.3"/><ellipse cx="1071.5" cy="983.7" rx="8.9" ry="8.3"/><ellipse cx="1060.8" cy="986.4" rx="8.9" ry="8.3"/><ellipse cx="1079.6" cy="989.1" rx="8.9" ry="8.3"/><ellipse cx="1055.4" cy="996.3" rx="8.9" ry="8.3"/><ellipse cx="1076.9" cy="998.5" rx="8.9" ry="8.3"/><ellipse cx="1065.6" cy="994.5" rx="8.9" ry="8.3"/></g><g fill="#0b5a9c" class="dot"><ellipse cx="1168.8" cy="804.9" rx="8.9" ry="8.3"/><ellipse cx="1168.8" cy="877" rx="8.9" ry="8.3"/><ellipse cx="1176.9" cy="949.3" rx="8.9" ry="8.3"/><ellipse cx="1144.6" cy="961.7" rx="8.9" ry="8.3"/><ellipse cx="1176.9" cy="968.4" rx="8.9" ry="8.3"/><ellipse cx="1160.8" cy="978.3" rx="8.9" ry="8.3"/><ellipse cx="1193.8" cy="979.7" rx="8.9" ry="8.3"/><ellipse cx="1144.6" cy="983.7" rx="8.9" ry="8.3"/><ellipse cx="1176.9" cy="989.1" rx="8.9" ry="8.3"/><ellipse cx="1160.2" cy="1001.2" rx="8.9" ry="8.3"/></g><path d="M951.5 892.3H984.5M951.5 954.9H984.5M968 892.3V954.9" class="err" stroke-width="6.8"/><path d="M919.3 679.1V1006M902.1 679.1H935.9M908.5 760.1H919.3M908.5 842H919.3M908.5 923.2H919.3M908.5 1006H919.3M919.3 606.3V630.8M895 607.9H919.3M902.1 630.8H935.9M910.3 1006H1218M968.6 1006V1021.3M1068.9 1006V1021.3M1169.4 1006V1021.3" class="axl"/><path d="M919.6 1006.4H1220" class="axd"/><g class="tl"><text x="901.5" y="686.5">4</text><text x="901.5" y="767.5">3</text><text x="901.5" y="849.4">2</text><text x="901.5" y="930.6">1</text><text x="901.5" y="1013.4">0</text><text x="887" y="615.3">12</text><text x="887" y="638.2">10</text></g></g>
<g><text x="1454" y="589.1" class="ttl">IL-9</text><rect x="1327.5" y="974.9" width="63.3" height="35.7" fill="#d9d9d9" class="bar"/><rect x="1427.8" y="974.4" width="63.3" height="36.2" fill="#f8f3cc" class="bar"/><rect x="1528.6" y="934" width="63.3" height="76.6" fill="#8aafd9" class="bar"/><path d="M1342.6 966.2H1375.6M1342.6 977H1375.6M1359.1 966.2V977" class="err" stroke-width="3.0"/><path d="M1442.9 963.5H1475.9M1442.9 983.7H1475.9M1459.4 963.5V983.7" class="err" stroke-width="3.0"/><path d="M1543.7 893.7H1576.7M1543.7 970.3H1576.7M1560.2 893.7V970.3" class="err" stroke-width="3.0"/><g fill="#a7a9ac" class="dot"><ellipse cx="1359.1" cy="906.3" rx="8.9" ry="8.3"/><ellipse cx="1359.1" cy="923.2" rx="8.9" ry="8.3"/><ellipse cx="1352.7" cy="931.3" rx="8.9" ry="8.3"/><ellipse cx="1365.3" cy="938.8" rx="8.9" ry="8.3"/><ellipse cx="1354.6" cy="952" rx="8.9" ry="8.3"/><ellipse cx="1362.1" cy="950.9" rx="8.9" ry="8.3"/><ellipse cx="1359.1" cy="963.5" rx="8.9" ry="8.3"/><ellipse cx="1349.2" cy="974.3" rx="8.9" ry="8.3"/><ellipse cx="1376.1" cy="974.3" rx="8.9" ry="8.3"/><ellipse cx="1368" cy="977" rx="8.9" ry="8.3"/><ellipse cx="1359.1" cy="985.1" rx="8.9" ry="8.3"/><ellipse cx="1333.1" cy="988.3" rx="8.9" ry="8.3"/><ellipse cx="1384.1" cy="989.1" rx="8.9" ry="8.3"/><ellipse cx="1373.4" cy="993.1" rx="8.9" ry="8.3"/><ellipse cx="1345.2" cy="991.8" rx="8.9" ry="8.3"/><ellipse cx="1356.5" cy="997.2" rx="8.9" ry="8.3"/><ellipse cx="1337.9" cy="999" rx="8.9" ry="8.3"/><ellipse cx="1379.6" cy="998" rx="8.9" ry="8.3"/><ellipse cx="1374.7" cy="1001.2" rx="8.9" ry="8.3"/><ellipse cx="1361.3" cy="1006.6" rx="8.9" ry="8.3"/></g><g fill="#f3e97a" class="dot"><ellipse cx="1459.4" cy="798.8" rx="8.9" ry="8.3"/><ellipse cx="1459.4" cy="891.5" rx="8.9" ry="8.3"/><ellipse cx="1462.1" cy="925.1" rx="8.9" ry="8.3"/><ellipse cx="1457.3" cy="937.5" rx="8.9" ry="8.3"/><ellipse cx="1451.3" cy="960.9" rx="8.9" ry="8.3"/><ellipse cx="1443.3" cy="960.1" rx="8.9" ry="8.3"/><ellipse cx="1476.3" cy="967.6" rx="8.9" ry="8.3"/><ellipse cx="1446" cy="971.6" rx="8.9" ry="8.3"/><ellipse cx="1461.6" cy="970.3" rx="8.9" ry="8.3"/><ellipse cx="1456.7" cy="982.4" rx="8.9" ry="8.3"/><ellipse cx="1471.5" cy="986.4" rx="8.9" ry="8.3"/><ellipse cx="1444.6" cy="988.3" rx="8.9" ry="8.3"/><ellipse cx="1468.8" cy="988.3" rx="8.9" ry="8.3"/><ellipse cx="1433.9" cy="993.1" rx="8.9" ry="8.3"/><ellipse cx="1482.3" cy="998.5" rx="8.9" ry="8.3"/><ellipse cx="1458.1" cy="995.8" rx="8.9" ry="8.3"/><ellipse cx="1435.2" cy="1002.5" rx="8.9" ry="8.3"/><ellipse cx="1454" cy="1006" rx="8.9" ry="8.3"/><ellipse cx="1473.7" cy="1005.2" rx="8.9" ry="8.3"/></g><g fill="#0b5a9c" class="dot"><ellipse cx="1560.2" cy="636.4" rx="8.9" ry="8.3"/><ellipse cx="1560.2" cy="882.9" rx="8.9" ry="8.3"/><ellipse cx="1560.2" cy="948.8" rx="8.9" ry="8.3"/><ellipse cx="1542.7" cy="972.4" rx="8.9" ry="8.3"/><ellipse cx="1560.2" cy="970.3" rx="8.9" ry="8.3"/><ellipse cx="1576.3" cy="970.3" rx="8.9" ry="8.3"/><ellipse cx="1550.8" cy="989.9" rx="8.9" ry="8.3"/><ellipse cx="1568.3" cy="990.4" rx="8.9" ry="8.3"/><ellipse cx="1584.9" cy="990.4" rx="8.9" ry="8.3"/><ellipse cx="1535.5" cy="1002.5" rx="8.9" ry="8.3"/></g><path d="M1342.6 966.2H1375.6M1342.6 977H1375.6M1359.1 966.2V977" class="err" stroke-width="6.8"/><path d="M1309 684.5V1010.6M1291.8 684.5H1325.6M1298.2 766H1309M1298.2 847.4H1309M1298.2 929.1H1309M1298.2 1010.6H1309M1309 611.9V636.9M1284.7 613.5H1309M1291.8 636.9H1325.6M1300.3 1010.6H1609.9M1359.7 1010.6V1025.9M1460 1010.6V1025.9M1560.8 1010.6V1025.9" class="axl"/><path d="M1309.3 1011H1611.9" class="axd"/><g class="tl"><text x="1291.2" y="691.9">8</text><text x="1291.2" y="773.4">6</text><text x="1291.2" y="854.8">4</text><text x="1291.2" y="936.5">2</text><text x="1291.2" y="1018">0</text><text x="1276.7" y="620.9">12</text><text x="1276.7" y="644.3">10</text></g></g>
<g><text x="1357.3" y="1194.6" class="ttl">Th1</text><rect x="1220" y="1512.4" width="62.8" height="103.2" fill="#d9d9d9" class="bar"/><rect x="1320" y="1506.5" width="63.3" height="109.1" fill="#f8f3cc" class="bar"/><rect x="1420.8" y="1478.3" width="62" height="137.3" fill="#8aafd9" class="bar"/><path d="M1235.1 1499.2H1268.1M1235.1 1522.6H1268.1M1251.6 1499.2V1522.6" class="err" stroke-width="3.0"/><path d="M1335.1 1491.1H1368.1M1335.1 1520.7H1368.1M1351.6 1491.1V1520.7" class="err" stroke-width="3.0"/><path d="M1435.4 1448.7H1468.4M1435.4 1505.4H1468.4M1451.9 1448.7V1505.4" class="err" stroke-width="3.0"/><g fill="#a7a9ac" class="dot"><ellipse cx="1251.6" cy="1389.5" rx="8.9" ry="8.3"/><ellipse cx="1245.7" cy="1409.9" rx="8.9" ry="8.3"/><ellipse cx="1256.5" cy="1413.2" rx="8.9" ry="8.3"/><ellipse cx="1251.1" cy="1430.1" rx="8.9" ry="8.3"/><ellipse cx="1251.1" cy="1463.4" rx="8.9" ry="8.3"/><ellipse cx="1266.4" cy="1481.2" rx="8.9" ry="8.3"/><ellipse cx="1256.5" cy="1485.8" rx="8.9" ry="8.3"/><ellipse cx="1226.9" cy="1499.7" rx="8.9" ry="8.3"/><ellipse cx="1275.8" cy="1506.7" rx="8.9" ry="8.3"/><ellipse cx="1238.2" cy="1509.9" rx="8.9" ry="8.3"/><ellipse cx="1262.4" cy="1514" rx="8.9" ry="8.3"/><ellipse cx="1247.6" cy="1511.3" rx="8.9" ry="8.3"/><ellipse cx="1257" cy="1519.4" rx="8.9" ry="8.3"/><ellipse cx="1236.8" cy="1533.3" rx="8.9" ry="8.3"/><ellipse cx="1277.2" cy="1534.1" rx="8.9" ry="8.3"/><ellipse cx="1227.4" cy="1543.5" rx="8.9" ry="8.3"/><ellipse cx="1245.7" cy="1550.3" rx="8.9" ry="8.3"/><ellipse cx="1254.3" cy="1547.6" rx="8.9" ry="8.3"/><ellipse cx="1266.4" cy="1542.2" rx="8.9" ry="8.3"/><ellipse cx="1266.4" cy="1571" rx="8.9" ry="8.3"/><ellipse cx="1256.5" cy="1565.9" rx="8.9" ry="8.3"/><ellipse cx="1236.8" cy="1575.3" rx="8.9" ry="8.3"/><ellipse cx="1256.5" cy="1584.7" rx="8.9" ry="8.3"/><ellipse cx="1246.8" cy="1593.3" rx="8.9" ry="8.3"/></g><g fill="#f3e97a" class="dot"><ellipse cx="1351.6" cy="1288.7" rx="8.9" ry="8.3"/><ellipse cx="1351.6" cy="1310.2" rx="8.9" ry="8.3"/><ellipse cx="1351.6" cy="1391.7" rx="8.9" ry="8.3"/><ellipse cx="1351.6" cy="1431.5" rx="8.9" ry="8.3"/><ellipse cx="1326.9" cy="1448.9" rx="8.9" ry="8.3"/><ellipse cx="1339.8" cy="1450.8" rx="8.9" ry="8.3"/><ellipse cx="1376.6" cy="1462.4" rx="8.9" ry="8.3"/><ellipse cx="1363.7" cy="1463.7" rx="8.9" ry="8.3"/><ellipse cx="1339.8" cy="1469.6" rx="8.9" ry="8.3"/><ellipse cx="1351.6" cy="1481.2" rx="8.9" ry="8.3"/><ellipse cx="1363.7" cy="1481.7" rx="8.9" ry="8.3"/><ellipse cx="1351.6" cy="1501.3" rx="8.9" ry="8.3"/><ellipse cx="1326.9" cy="1509.4" rx="8.9" ry="8.3"/><ellipse cx="1376.6" cy="1513.4" rx="8.9" ry="8.3"/><ellipse cx="1339.8" cy="1514" rx="8.9" ry="8.3"/><ellipse cx="1351.6" cy="1519.4" rx="8.9" ry="8.3"/><ellipse cx="1363.7" cy="1521.5" rx="8.9" ry="8.3"/><ellipse cx="1339.8" cy="1536.3" rx="8.9" ry="8.3"/><ellipse cx="1326.9" cy="1550.3" rx="8.9" ry="8.3"/><ellipse cx="1376.6" cy="1551.6" rx="8.9" ry="8.3"/><ellipse cx="1339.8" cy="1557" rx="8.9" ry="8.3"/><ellipse cx="1351.6" cy="1559.1" rx="8.9" ry="8.3"/><ellipse cx="1363.7" cy="1564.2" rx="8.9" ry="8.3"/><ellipse cx="1326.9" cy="1572.3" rx="8.9" ry="8.3"/><ellipse cx="1339.8" cy="1573.9" rx="8.9" ry="8.3"/><ellipse cx="1376.6" cy="1574.5" rx="8.9" ry="8.3"/><ellipse cx="1363.7" cy="1582.5" rx="8.9" ry="8.3"/><ellipse cx="1351.6" cy="1586.6" rx="8.9" ry="8.3"/><ellipse cx="1326.9" cy="1589.2" rx="8.9" ry="8.3"/><ellipse cx="1376.6" cy="1593.8" rx="8.9" ry="8.3"/></g><g fill="#0b5a9c" class="dot"><ellipse cx="1451.9" cy="1346.8" rx="8.9" ry="8.3"/><ellipse cx="1451.9" cy="1364.8" rx="8.9" ry="8.3"/><ellipse cx="1451.9" cy="1382.3" rx="8.9" ry="8.3"/><ellipse cx="1451.9" cy="1446.2" rx="8.9" ry="8.3"/><ellipse cx="1476.1" cy="1475.8" rx="8.9" ry="8.3"/><ellipse cx="1427.7" cy="1490.3" rx="8.9" ry="8.3"/><ellipse cx="1451.9" cy="1531.5" rx="8.9" ry="8.3"/><ellipse cx="1427.7" cy="1571" rx="8.9" ry="8.3"/><ellipse cx="1476.1" cy="1571.2" rx="8.9" ry="8.3"/><ellipse cx="1451.9" cy="1589.2" rx="8.9" ry="8.3"/></g><path d="M1235.1 1499.2H1268.1M1235.1 1522.6H1268.1M1251.6 1499.2V1522.6" class="err" stroke-width="6.8"/><path d="M1201.8 1218.6V1615.6M1192.5 1220.2H1201.8M1192.5 1276.9H1201.8M1192.5 1333.3H1201.8M1192.5 1389.8H1201.8M1192.5 1446.2H1201.8M1192.5 1502.7H1201.8M1192.5 1559.1H1201.8M1192.5 1615.6H1201.8M1193.3 1615.6H1501.6M1252.2 1615.6V1630.9M1352.2 1615.6V1630.9M1452.5 1615.6V1630.9" class="axl"/><path d="M1202.1 1616H1503.6" class="axd"/><g class="tl"><text x="1175.8" y="1227.6">35</text><text x="1175.8" y="1284.3">30</text><text x="1175.8" y="1340.7">25</text><text x="1175.8" y="1397.2">20</text><text x="1175.8" y="1453.6">15</text><text x="1175.8" y="1510.1">10</text><text x="1175.8" y="1566.5">5</text><text x="1175.8" y="1623">0</text></g></g>
<g><text x="1351.9" y="1677.4" class="ttl">Th17</text><rect x="1220" y="2045.5" width="63.9" height="101.8" fill="#d9d9d9" class="bar"/><rect x="1320.8" y="2077.7" width="63.3" height="69.6" fill="#f8f3cc" class="bar"/><rect x="1421" y="2120.2" width="62.5" height="27.1" fill="#8aafd9" class="bar"/><path d="M1235.7 2021H1268.7M1235.7 2066.7H1268.7M1252.2 2021V2066.7" class="err" stroke-width="3.0"/><path d="M1335.9 2063.2H1368.9M1335.9 2090H1368.9M1352.4 2063.2V2090" class="err" stroke-width="3.0"/><path d="M1435.9 2111.5H1468.9M1435.9 2131.2H1468.9M1452.4 2111.5V2131.2" class="err" stroke-width="3.0"/><g fill="#a7a9ac" class="dot"><ellipse cx="1252.2" cy="1771.5" rx="8.9" ry="8.3"/><ellipse cx="1252.2" cy="1877.7" rx="8.9" ry="8.3"/><ellipse cx="1226.9" cy="1961" rx="8.9" ry="8.3"/><ellipse cx="1252.2" cy="1960.2" rx="8.9" ry="8.3"/><ellipse cx="1263.7" cy="1963.2" rx="8.9" ry="8.3"/><ellipse cx="1239.5" cy="1972.6" rx="8.9" ry="8.3"/><ellipse cx="1245.7" cy="2003.5" rx="8.9" ry="8.3"/><ellipse cx="1257" cy="2004.8" rx="8.9" ry="8.3"/><ellipse cx="1239.5" cy="2041.1" rx="8.9" ry="8.3"/><ellipse cx="1263.7" cy="2037.6" rx="8.9" ry="8.3"/><ellipse cx="1252.2" cy="2047.8" rx="8.9" ry="8.3"/><ellipse cx="1239.5" cy="2071.2" rx="8.9" ry="8.3"/><ellipse cx="1263.7" cy="2084.7" rx="8.9" ry="8.3"/><ellipse cx="1252.2" cy="2086.5" rx="8.9" ry="8.3"/><ellipse cx="1227.4" cy="2111.5" rx="8.9" ry="8.3"/><ellipse cx="1239.5" cy="2108.9" rx="8.9" ry="8.3"/><ellipse cx="1276.6" cy="2107.5" rx="8.9" ry="8.3"/><ellipse cx="1263.7" cy="2114.2" rx="8.9" ry="8.3"/><ellipse cx="1239.5" cy="2125.8" rx="8.9" ry="8.3"/><ellipse cx="1276.6" cy="2126.3" rx="8.9" ry="8.3"/><ellipse cx="1263.7" cy="2129.8" rx="8.9" ry="8.3"/><ellipse cx="1252.2" cy="2136.3" rx="8.9" ry="8.3"/><ellipse cx="1227.4" cy="2142.5" rx="8.9" ry="8.3"/><ellipse cx="1276.6" cy="2144.3" rx="8.9" ry="8.3"/></g><g fill="#f3e97a" class="dot"><ellipse cx="1352.4" cy="1895.2" rx="8.9" ry="8.3"/><ellipse cx="1352.4" cy="1937.6" rx="8.9" ry="8.3"/><ellipse cx="1352.4" cy="1957" rx="8.9" ry="8.3"/><ellipse cx="1352.4" cy="1975.8" rx="8.9" ry="8.3"/><ellipse cx="1356.5" cy="2023.6" rx="8.9" ry="8.3"/><ellipse cx="1347.8" cy="2026.1" rx="8.9" ry="8.3"/><ellipse cx="1339.8" cy="2032.2" rx="8.9" ry="8.3"/><ellipse cx="1364" cy="2030.9" rx="8.9" ry="8.3"/><ellipse cx="1352.4" cy="2040.3" rx="8.9" ry="8.3"/><ellipse cx="1360.5" cy="2072" rx="8.9" ry="8.3"/><ellipse cx="1344.4" cy="2080.1" rx="8.9" ry="8.3"/><ellipse cx="1352.4" cy="2090.6" rx="8.9" ry="8.3"/><ellipse cx="1352.4" cy="2108.9" rx="8.9" ry="8.3"/><ellipse cx="1360.5" cy="2121" rx="8.9" ry="8.3"/><ellipse cx="1328.2" cy="2128.2" rx="8.9" ry="8.3"/><ellipse cx="1367.2" cy="2129" rx="8.9" ry="8.3"/><ellipse cx="1377.4" cy="2126.3" rx="8.9" ry="8.3"/><ellipse cx="1344.4" cy="2130.9" rx="8.9" ry="8.3"/><ellipse cx="1331.7" cy="2139.8" rx="8.9" ry="8.3"/><ellipse cx="1348.4" cy="2141.1" rx="8.9" ry="8.3"/><ellipse cx="1372.6" cy="2138.4" rx="8.9" ry="8.3"/><ellipse cx="1356.5" cy="2135.7" rx="8.9" ry="8.3"/><ellipse cx="1364" cy="2147.8" rx="8.9" ry="8.3"/></g><g fill="#0b5a9c" class="dot"><ellipse cx="1452.4" cy="2028.2" rx="8.9" ry="8.3"/><ellipse cx="1428.5" cy="2112.9" rx="8.9" ry="8.3"/><ellipse cx="1464" cy="2116.4" rx="8.9" ry="8.3"/><ellipse cx="1477.4" cy="2121.5" rx="8.9" ry="8.3"/><ellipse cx="1452.4" cy="2123.6" rx="8.9" ry="8.3"/><ellipse cx="1440.6" cy="2129" rx="8.9" ry="8.3"/><ellipse cx="1464" cy="2130.9" rx="8.9" ry="8.3"/><ellipse cx="1428.5" cy="2143.3" rx="8.9" ry="8.3"/><ellipse cx="1452.4" cy="2144.3" rx="8.9" ry="8.3"/><ellipse cx="1477.4" cy="2147" rx="8.9" ry="8.3"/></g><path d="M1235.7 2021H1268.7M1235.7 2066.7H1268.7M1252.2 2021V2066.7" class="err" stroke-width="6.8"/><path d="M1201.8 1858.9V2147.3M1184.6 1858.9H1218.4M1191 1955.1H1201.8M1191 2051.1H1201.8M1191 2147.3H1201.8M1201.8 1750.3V1810.5M1191.8 1751.9H1201.8M1191.8 1780.9H1201.8M1184.6 1810.5H1218.4M1193.3 2147.3H1503M1252.8 2147.3V2155.3M1353 2147.3V2155.3M1453 2147.3V2155.3" class="axl"/><path d="M1202.1 2147.7H1505" class="axd"/><path d="M1248.4 1748.6H1453.2" class="axl" stroke-linecap="round"/><text x="1333.6" y="1741.9" class="sig">0.0250</text><g class="tl"><text x="1177.8" y="1866.3">1.5</text><text x="1177.8" y="1962.5">1.0</text><text x="1177.8" y="2058.5">0.5</text><text x="1177.8" y="2154.7">0.0</text><text x="1178.3" y="1759.3">3.0</text><text x="1178.3" y="1788.3">2.5</text><text x="1178.3" y="1817.9">2.0</text></g></g>
<g><text x="1747.3" y="1191.4" class="ttl">Th2</text><rect x="1612.1" y="1482.3" width="62.8" height="127.6" fill="#d9d9d9" class="bar"/><rect x="1712.1" y="1479.1" width="62.8" height="130.9" fill="#f8f3cc" class="bar"/><rect x="1811.8" y="1452.8" width="62" height="157.2" fill="#8aafd9" class="bar"/><path d="M1627.3 1450.3H1660.3M1627.3 1511.3H1660.3M1643.8 1450.3V1511.3" class="err" stroke-width="3.0"/><path d="M1726.7 1444.9H1759.7M1726.7 1511.3H1759.7M1743.2 1444.9V1511.3" class="err" stroke-width="3.0"/><path d="M1826.7 1379.6H1859.7M1826.7 1522H1859.7M1843.2 1379.6V1522" class="err" stroke-width="3.0"/><g fill="#a7a9ac" class="dot"><ellipse cx="1643.8" cy="1246.5" rx="8.9" ry="8.3"/><ellipse cx="1643.8" cy="1263.2" rx="8.9" ry="8.3"/><ellipse cx="1643.8" cy="1397" rx="8.9" ry="8.3"/><ellipse cx="1643.8" cy="1419.4" rx="8.9" ry="8.3"/><ellipse cx="1643.8" cy="1436.8" rx="8.9" ry="8.3"/><ellipse cx="1635.7" cy="1465.6" rx="8.9" ry="8.3"/><ellipse cx="1651.8" cy="1468.3" rx="8.9" ry="8.3"/><ellipse cx="1643.8" cy="1481.2" rx="8.9" ry="8.3"/><ellipse cx="1659.9" cy="1503.2" rx="8.9" ry="8.3"/><ellipse cx="1627.6" cy="1518" rx="8.9" ry="8.3"/><ellipse cx="1643.8" cy="1522" rx="8.9" ry="8.3"/><ellipse cx="1659.9" cy="1522.6" rx="8.9" ry="8.3"/><ellipse cx="1635.7" cy="1532.8" rx="8.9" ry="8.3"/><ellipse cx="1651.8" cy="1533.3" rx="8.9" ry="8.3"/><ellipse cx="1659.9" cy="1546.8" rx="8.9" ry="8.3"/><ellipse cx="1619.6" cy="1556.2" rx="8.9" ry="8.3"/><ellipse cx="1651.8" cy="1558.3" rx="8.9" ry="8.3"/><ellipse cx="1627.6" cy="1567.7" rx="8.9" ry="8.3"/><ellipse cx="1643.8" cy="1568.3" rx="8.9" ry="8.3"/><ellipse cx="1659.9" cy="1571.2" rx="8.9" ry="8.3"/><ellipse cx="1619.6" cy="1574.5" rx="8.9" ry="8.3"/><ellipse cx="1635.7" cy="1574.5" rx="8.9" ry="8.3"/><ellipse cx="1651.8" cy="1577.2" rx="8.9" ry="8.3"/><ellipse cx="1668.5" cy="1576.6" rx="8.9" ry="8.3"/></g><g fill="#f3e97a" class="dot"><ellipse cx="1743.2" cy="1231.7" rx="8.9" ry="8.3"/><ellipse cx="1743.2" cy="1255.4" rx="8.9" ry="8.3"/><ellipse cx="1743.2" cy="1336" rx="8.9" ry="8.3"/><ellipse cx="1743.2" cy="1421.2" rx="8.9" ry="8.3"/><ellipse cx="1747.3" cy="1466.9" rx="8.9" ry="8.3"/><ellipse cx="1758" cy="1460.2" rx="8.9" ry="8.3"/><ellipse cx="1729.3" cy="1472.3" rx="8.9" ry="8.3"/><ellipse cx="1739.2" cy="1475" rx="8.9" ry="8.3"/><ellipse cx="1758" cy="1476.3" rx="8.9" ry="8.3"/><ellipse cx="1747.3" cy="1488.4" rx="8.9" ry="8.3"/><ellipse cx="1758" cy="1501.1" rx="8.9" ry="8.3"/><ellipse cx="1729.3" cy="1502.4" rx="8.9" ry="8.3"/><ellipse cx="1739.2" cy="1511.3" rx="8.9" ry="8.3"/><ellipse cx="1747.3" cy="1507.3" rx="8.9" ry="8.3"/><ellipse cx="1729.3" cy="1523.4" rx="8.9" ry="8.3"/><ellipse cx="1739.2" cy="1531.5" rx="8.9" ry="8.3"/><ellipse cx="1747.3" cy="1531.5" rx="8.9" ry="8.3"/><ellipse cx="1758" cy="1534.1" rx="8.9" ry="8.3"/><ellipse cx="1719" cy="1547.6" rx="8.9" ry="8.3"/><ellipse cx="1747.3" cy="1551.6" rx="8.9" ry="8.3"/><ellipse cx="1758" cy="1551.6" rx="8.9" ry="8.3"/><ellipse cx="1768" cy="1557" rx="8.9" ry="8.3"/><ellipse cx="1729.3" cy="1559.7" rx="8.9" ry="8.3"/><ellipse cx="1719" cy="1566.9" rx="8.9" ry="8.3"/><ellipse cx="1739.2" cy="1566.9" rx="8.9" ry="8.3"/><ellipse cx="1768" cy="1573.7" rx="8.9" ry="8.3"/><ellipse cx="1747.3" cy="1574.5" rx="8.9" ry="8.3"/><ellipse cx="1739.2" cy="1581.2" rx="8.9" ry="8.3"/><ellipse cx="1758" cy="1586" rx="8.9" ry="8.3"/><ellipse cx="1719" cy="1586.6" rx="8.9" ry="8.3"/></g><g fill="#0b5a9c" class="dot"><ellipse cx="1843.2" cy="1239.2" rx="8.9" ry="8.3"/><ellipse cx="1843.2" cy="1407.8" rx="8.9" ry="8.3"/><ellipse cx="1843.2" cy="1425.8" rx="8.9" ry="8.3"/><ellipse cx="1843.2" cy="1450.8" rx="8.9" ry="8.3"/><ellipse cx="1867.4" cy="1526.1" rx="8.9" ry="8.3"/><ellipse cx="1819" cy="1539" rx="8.9" ry="8.3"/><ellipse cx="1867.4" cy="1553.8" rx="8.9" ry="8.3"/><ellipse cx="1843.2" cy="1572.3" rx="8.9" ry="8.3"/><ellipse cx="1867.4" cy="1591.9" rx="8.9" ry="8.3"/><ellipse cx="1819" cy="1599.5" rx="8.9" ry="8.3"/></g><path d="M1627.3 1450.3H1660.3M1627.3 1511.3H1660.3M1643.8 1450.3V1511.3" class="err" stroke-width="6.8"/><path d="M1593.9 1322.6V1609.9M1583.1 1336.6H1593.9M1583.1 1405.1H1593.9M1583.1 1473.7H1593.9M1583.1 1541.7H1593.9M1583.1 1609.9H1593.9M1576.7 1322.6H1610.5M1593.9 1215.3V1275.3M1583.7 1216.9H1593.9M1583.7 1246.5H1593.9M1576.7 1275.3H1610.5M1585.5 1609.9H1892.4M1644.4 1609.9V1625.2M1743.8 1609.9V1625.2M1843.8 1609.9V1625.2" class="axl"/><path d="M1594.2 1610.3H1894.4" class="axd"/><g class="tl"><text x="1567.6" y="1344">4</text><text x="1567.6" y="1412.5">3</text><text x="1567.6" y="1481.1">2</text><text x="1567.6" y="1549.1">1</text><text x="1567.6" y="1617.3">0</text><text x="1569.7" y="1224.3">15</text><text x="1569.7" y="1253.9">10</text><text x="1569.7" y="1282.7">5</text></g></g>
<g><text x="1754.5" y="1682.8" class="ttl">Th9</text><rect x="1619.6" y="2103.3" width="62.5" height="39.7" fill="#d9d9d9" class="bar"/><rect x="1719.6" y="2088" width="62.8" height="55" fill="#f8f3cc" class="bar"/><rect x="1819.1" y="2035.5" width="62.5" height="107.5" fill="#8aafd9" class="bar"/><path d="M1634.8 2094.1H1667.8M1634.8 2108.9H1667.8M1651.3 2094.1V2108.9" class="err" stroke-width="3.0"/><path d="M1734.3 2072H1767.3M1734.3 2100.8H1767.3M1750.8 2072V2100.8" class="err" stroke-width="3.0"/><path d="M1834.3 1989.8H1867.3M1834.3 2077.9H1867.3M1850.8 1989.8V2077.9" class="err" stroke-width="3.0"/><g fill="#a7a9ac" class="dot"><ellipse cx="1642.4" cy="2030.9" rx="8.9" ry="8.3"/><ellipse cx="1654.5" cy="2034.9" rx="8.9" ry="8.3"/><ellipse cx="1648.6" cy="2041.7" rx="8.9" ry="8.3"/><ellipse cx="1660.4" cy="2041.1" rx="8.9" ry="8.3"/><ellipse cx="1650.5" cy="2059.1" rx="8.9" ry="8.3"/><ellipse cx="1647.8" cy="2072.6" rx="8.9" ry="8.3"/><ellipse cx="1654.5" cy="2074.7" rx="8.9" ry="8.3"/><ellipse cx="1650.5" cy="2100.8" rx="8.9" ry="8.3"/><ellipse cx="1676" cy="2110.2" rx="8.9" ry="8.3"/><ellipse cx="1625" cy="2113.7" rx="8.9" ry="8.3"/><ellipse cx="1669.3" cy="2112.9" rx="8.9" ry="8.3"/><ellipse cx="1659.9" cy="2114.2" rx="8.9" ry="8.3"/><ellipse cx="1638.9" cy="2113.7" rx="8.9" ry="8.3"/><ellipse cx="1650.5" cy="2121.8" rx="8.9" ry="8.3"/><ellipse cx="1630.3" cy="2130.4" rx="8.9" ry="8.3"/><ellipse cx="1642.4" cy="2132.2" rx="8.9" ry="8.3"/><ellipse cx="1668" cy="2135.7" rx="8.9" ry="8.3"/><ellipse cx="1629" cy="2137.1" rx="8.9" ry="8.3"/><ellipse cx="1669.3" cy="2137.1" rx="8.9" ry="8.3"/><ellipse cx="1655.6" cy="2141.1" rx="8.9" ry="8.3"/><ellipse cx="1646.5" cy="2139" rx="8.9" ry="8.3"/><ellipse cx="1661.2" cy="2131.7" rx="8.9" ry="8.3"/></g><g fill="#f3e97a" class="dot"><ellipse cx="1750.8" cy="1791.7" rx="8.9" ry="8.3"/><ellipse cx="1750.8" cy="1960.2" rx="8.9" ry="8.3"/><ellipse cx="1750.8" cy="2018.8" rx="8.9" ry="8.3"/><ellipse cx="1750.8" cy="2034.9" rx="8.9" ry="8.3"/><ellipse cx="1752.6" cy="2059.9" rx="8.9" ry="8.3"/><ellipse cx="1748.1" cy="2061" rx="8.9" ry="8.3"/><ellipse cx="1739.2" cy="2080.1" rx="8.9" ry="8.3"/><ellipse cx="1733.8" cy="2087.4" rx="8.9" ry="8.3"/><ellipse cx="1767.4" cy="2090" rx="8.9" ry="8.3"/><ellipse cx="1760.7" cy="2085.5" rx="8.9" ry="8.3"/><ellipse cx="1752.6" cy="2103.5" rx="8.9" ry="8.3"/><ellipse cx="1739.2" cy="2111.5" rx="8.9" ry="8.3"/><ellipse cx="1762.1" cy="2115.6" rx="8.9" ry="8.3"/><ellipse cx="1744.6" cy="2120.4" rx="8.9" ry="8.3"/><ellipse cx="1755.3" cy="2118.3" rx="8.9" ry="8.3"/><ellipse cx="1730.3" cy="2124.5" rx="8.9" ry="8.3"/><ellipse cx="1775.5" cy="2132.2" rx="8.9" ry="8.3"/><ellipse cx="1762.1" cy="2133.1" rx="8.9" ry="8.3"/><ellipse cx="1726.6" cy="2135.2" rx="8.9" ry="8.3"/><ellipse cx="1768.8" cy="2139.2" rx="8.9" ry="8.3"/><ellipse cx="1748.1" cy="2140.3" rx="8.9" ry="8.3"/></g><g fill="#0b5a9c" class="dot"><ellipse cx="1850.8" cy="1783.6" rx="8.9" ry="8.3"/><ellipse cx="1850.8" cy="1893.3" rx="8.9" ry="8.3"/><ellipse cx="1850.8" cy="1996.5" rx="8.9" ry="8.3"/><ellipse cx="1875" cy="2073.4" rx="8.9" ry="8.3"/><ellipse cx="1826.6" cy="2086.5" rx="8.9" ry="8.3"/><ellipse cx="1875" cy="2098.9" rx="8.9" ry="8.3"/><ellipse cx="1826.6" cy="2110.2" rx="8.9" ry="8.3"/><ellipse cx="1850.8" cy="2121.8" rx="8.9" ry="8.3"/><ellipse cx="1875" cy="2121.8" rx="8.9" ry="8.3"/><ellipse cx="1826.6" cy="2135.7" rx="8.9" ry="8.3"/></g><path d="M1634.8 2094.1H1667.8M1634.8 2108.9H1667.8M1651.3 2094.1V2108.9" class="err" stroke-width="6.8"/><path d="M1601.2 1855.4V2143M1584 1855.4H1617.8M1590.4 1913.2H1601.2M1590.4 1970.4H1601.2M1590.4 2028.2H1601.2M1590.4 2085.5H1601.2M1590.4 2143H1601.2M1601.2 1747V1808.3M1591.2 1748.6H1601.2M1591.2 1778.2H1601.2M1584 1808.3H1617.8M1592.2 2143H1899.2M1651.9 2143V2151M1751.4 2143V2151M1851.4 2143V2151" class="axl"/><path d="M1601.5 2143.4H1901.2" class="axd"/><g class="tl"><text x="1575.2" y="1862.8">5</text><text x="1575.2" y="1920.6">4</text><text x="1575.2" y="1977.8">3</text><text x="1575.2" y="2035.6">2</text><text x="1575.2" y="2092.9">1</text><text x="1575.2" y="2150.4">0</text><text x="1582.4" y="1753">10</text><text x="1582.4" y="1782.6">8</text><text x="1582.4" y="1812.7">6</text></g></g>
<g><g><g filter="url(#pc1)"><ellipse cx="102.5" cy="1310" rx="51" ry="32.4" fill="url(#G)" fill-opacity="0.97" transform="rotate(-8 102.5 1310)"/><ellipse cx="102" cy="1309" rx="78" ry="57" fill="url(#G)" fill-opacity="0.16"/><ellipse cx="155" cy="1319" rx="62" ry="14" fill="url(#F)" fill-opacity="0.33"/><ellipse cx="200" cy="1318.5" rx="45" ry="33" fill="url(#G)" fill-opacity="0.22"/><ellipse cx="101.6" cy="1345" rx="18" ry="9" fill="url(#G)" fill-opacity="0.4"/><ellipse cx="105" cy="1265" rx="60" ry="90" fill="url(#G)" fill-opacity="0.18"/><ellipse cx="224" cy="1255" rx="27" ry="165" fill="url(#G)" fill-opacity="0.16"/><ellipse cx="215" cy="1310" rx="36" ry="60" fill="url(#G)" fill-opacity="0.12"/><ellipse cx="160" cy="1262" rx="95" ry="100" fill="url(#F)" fill-opacity="0.11"/><ellipse cx="160" cy="1342" rx="70" ry="10" fill="url(#F)" fill-opacity="0.14"/></g></g><rect x="72.7" y="1230.5" width="82.1" height="104.5" class="gate"/><path d="M67.3 1168V1355.5H249.9" class="fax"/><path d="M67.3 1355.5h-4.6M67.3 1308.4h-4.6M67.3 1261.3h-4.6M67.3 1214.3h-4.6M67.3 1343.7h-2.6M67.3 1332h-2.6M67.3 1320.2h-2.6M67.3 1296.7h-2.6M67.3 1284.9h-2.6M67.3 1273.1h-2.6M67.3 1249.6h-2.6M67.3 1237.8h-2.6M67.3 1226h-2.6M67.3 1202.5h-2.6M67.3 1190.7h-2.6M67.3 1179h-2.6M116.5 1355.5v5M183.8 1355.5v5M213 1355.5v5M236.7 1355.5v5M82.1 1355.5v3M90.8 1355.5v3M96.9 1355.5v3M101.7 1355.5v3M105.6 1355.5v3M108.9 1355.5v3M111.7 1355.5v3M114.2 1355.5v3M136.7 1355.5v3M148.6 1355.5v3M157 1355.5v3M163.6 1355.5v3M168.9 1355.5v3M173.4 1355.5v3M177.3 1355.5v3M180.8 1355.5v3M192.6 1355.5v3M197.7 1355.5v3M201.4 1355.5v3M204.2 1355.5v3M206.5 1355.5v3M208.5 1355.5v3M210.2 1355.5v3M211.6 1355.5v3M220.1 1355.5v3M224.3 1355.5v3M227.2 1355.5v3M229.5 1355.5v3M231.4 1355.5v3M233 1355.5v3M234.4 1355.5v3M235.6 1355.5v3M240.5 1355.5v3M242.7 1355.5v3M244.3 1355.5v3M245.6 1355.5v3M246.6 1355.5v3M247.4 1355.5v3M248.2 1355.5v3M248.8 1355.5v3" class="ftk"/><path d="M42.2 1332.9V1379.7H87" class="larr"/><path d="M42.2 1312.9l-11.3 22.3h22.6zM107 1379.7l-22.3 -11.3v22.6z" fill="#000"/><text transform="translate(49.1 1256.2) rotate(-90)" class="fl" text-anchor="middle">FSC-A</text><text x="118.8" y="1388.5" class="fl">LD PF840</text></g>
<g><g><g filter="url(#pc2)"><ellipse cx="367" cy="1310" rx="42" ry="10.2" fill="url(#G)" fill-opacity="0.75" transform="rotate(-40.7 367 1310)"/><ellipse cx="370" cy="1307" rx="96" ry="11.4" fill="url(#G)" fill-opacity="0.5" transform="rotate(-40.7 370 1307)"/><ellipse cx="410" cy="1272" rx="108" ry="8.5" fill="url(#F)" fill-opacity="0.36" transform="rotate(-40.7 410 1272)"/><ellipse cx="338" cy="1334" rx="42" ry="13.5" fill="url(#G)" fill-opacity="0.2" transform="rotate(-40.7 338 1334)"/><ellipse cx="442" cy="1295" rx="66" ry="42" fill="url(#G)" fill-opacity="0.13"/></g></g><polygon points="321.2,1330.6 477.6,1171.6 491.6,1222 340,1347.5 321.2,1340.2" class="gate"/><path d="M321.2 1168V1355.5H505.1" class="fax"/><path d="M321.2 1355.5h-4.6M321.2 1308.4h-4.6M321.2 1261.3h-4.6M321.2 1214.3h-4.6M321.2 1343.7h-2.6M321.2 1332h-2.6M321.2 1320.2h-2.6M321.2 1296.7h-2.6M321.2 1284.9h-2.6M321.2 1273.1h-2.6M321.2 1249.6h-2.6M321.2 1237.8h-2.6M321.2 1226h-2.6M321.2 1202.5h-2.6M321.2 1190.7h-2.6M321.2 1179h-2.6M321.2 1355.5v5M368.3 1355.5v5M415.4 1355.5v5M462.4 1355.5v5M333 1355.5v3M344.7 1355.5v3M356.5 1355.5v3M380 1355.5v3M391.8 1355.5v3M403.6 1355.5v3M427.1 1355.5v3M438.9 1355.5v3M450.7 1355.5v3M474.2 1355.5v3M486 1355.5v3M497.8 1355.5v3" class="ftk"/><path d="M297.7 1332.9V1379.7H344.5" class="larr"/><path d="M297.7 1312.9l-11.3 22.3h22.6zM364.5 1379.7l-22.3 -11.3v22.6z" fill="#000"/><text transform="translate(303 1254.5) rotate(-90)" class="fl" text-anchor="middle">FSC-H</text><text x="380.2" y="1390.6" class="fl">FSC-A</text></g>
<g><g><g filter="url(#pc3)"><ellipse cx="631" cy="1334.5" rx="63" ry="42" fill="url(#G)" fill-opacity="0.97" transform="rotate(-12 631 1334.5)"/><ellipse cx="645" cy="1322" rx="114" ry="84" fill="url(#G)" fill-opacity="0.16"/><ellipse cx="660" cy="1275" rx="100" ry="115" fill="url(#F)" fill-opacity="0.15"/><ellipse cx="620" cy="1265" rx="90" ry="180" fill="url(#G)" fill-opacity="0.1"/><ellipse cx="700" cy="1290" rx="60" ry="50" fill="url(#F)" fill-opacity="0.1"/></g></g><polygon points="593.7,1306.9 658.5,1278.6 676.2,1290.4 678.3,1350.4 656.9,1351.5 609.4,1352 590.9,1349.4 591.4,1337.8" class="gate"/><path d="M581 1168V1355.5H763.1" class="fax"/><path d="M581 1355.5h-4.6M581 1308.4h-4.6M581 1261.3h-4.6M581 1214.3h-4.6M581 1343.7h-2.6M581 1332h-2.6M581 1320.2h-2.6M581 1296.7h-2.6M581 1284.9h-2.6M581 1273.1h-2.6M581 1249.6h-2.6M581 1237.8h-2.6M581 1226h-2.6M581 1202.5h-2.6M581 1190.7h-2.6M581 1179h-2.6M581 1355.5v5M628.1 1355.5v5M675.2 1355.5v5M722.2 1355.5v5M592.8 1355.5v3M604.5 1355.5v3M616.3 1355.5v3M639.9 1355.5v3M651.6 1355.5v3M663.4 1355.5v3M686.9 1355.5v3M698.7 1355.5v3M710.5 1355.5v3M734 1355.5v3M745.8 1355.5v3M757.5 1355.5v3" class="ftk"/><path d="M560 1332.9V1379.7H605.5" class="larr"/><path d="M560 1312.9l-11.3 22.3h22.6zM625.5 1379.7l-22.3 -11.3v22.6z" fill="#000"/><text transform="translate(568.9 1255.2) rotate(-90)" class="fl" text-anchor="middle">SSC-A</text><text x="646.1" y="1390.6" class="fl">FSC-A</text></g>
<g><g><g filter="url(#pc4)"><ellipse cx="975.8" cy="1229" rx="27" ry="45" fill="url(#G)" fill-opacity="0.78" transform="rotate(14 975.8 1229)"/><ellipse cx="972" cy="1236" rx="60" ry="84" fill="url(#G)" fill-opacity="0.42" transform="rotate(12 972 1236)"/><ellipse cx="895" cy="1314" rx="51" ry="39" fill="url(#G)" fill-opacity="0.42"/><ellipse cx="964.8" cy="1311" rx="30" ry="45" fill="url(#G)" fill-opacity="0.26"/><ellipse cx="922" cy="1305" rx="85" ry="55" fill="url(#F)" fill-opacity="0.34"/><ellipse cx="965" cy="1265" rx="42" ry="95" fill="url(#F)" fill-opacity="0.3"/><ellipse cx="910" cy="1255" rx="80" ry="95" fill="url(#F)" fill-opacity="0.2"/></g></g><rect x="923.4" y="1181.4" width="86.4" height="90" class="gate"/><path d="M852.9 1167.5V1355.5H1038.5" class="fax"/><path d="M852.9 1338.6h-4.6M852.9 1310.5h-4.6M852.9 1224.2h-4.6M852.9 1188.6h-4.6M852.9 1350.4h-2.6M852.9 1347.4h-2.6M852.9 1345.3h-2.6M852.9 1343.7h-2.6M852.9 1342.4h-2.6M852.9 1341.2h-2.6M852.9 1340.3h-2.6M852.9 1339.4h-2.6M852.9 1330.2h-2.6M852.9 1325.2h-2.6M852.9 1321.7h-2.6M852.9 1319h-2.6M852.9 1316.7h-2.6M852.9 1314.9h-2.6M852.9 1313.2h-2.6M852.9 1311.8h-2.6M852.9 1284.5h-2.6M852.9 1269.3h-2.6M852.9 1258.6h-2.6M852.9 1250.2h-2.6M852.9 1243.4h-2.6M852.9 1237.6h-2.6M852.9 1232.6h-2.6M852.9 1228.2h-2.6M852.9 1213.5h-2.6M852.9 1207.3h-2.6M852.9 1202.8h-2.6M852.9 1199.3h-2.6M852.9 1196.5h-2.6M852.9 1194.1h-2.6M852.9 1192.1h-2.6M852.9 1190.3h-2.6M852.9 1182.4h-2.6M852.9 1178.8h-2.6M852.9 1176.2h-2.6M852.9 1174.2h-2.6M852.9 1172.6h-2.6M852.9 1171.2h-2.6M852.9 1170h-2.6M852.9 1168.9h-2.6M902.9 1355.5v5M971.4 1355.5v5M1001 1355.5v5M1025 1355.5v5M867.9 1355.5v3M876.7 1355.5v3M883 1355.5v3M887.8 1355.5v3M891.8 1355.5v3M895.1 1355.5v3M898 1355.5v3M900.6 1355.5v3M923.5 1355.5v3M935.6 1355.5v3M944.1 1355.5v3M950.7 1355.5v3M956.2 1355.5v3M960.8 1355.5v3M964.7 1355.5v3M968.2 1355.5v3M980.3 1355.5v3M985.5 1355.5v3M989.2 1355.5v3M992.1 1355.5v3M994.4 1355.5v3M996.4 1355.5v3M998.1 1355.5v3M999.6 1355.5v3M1008.2 1355.5v3M1012.5 1355.5v3M1015.5 1355.5v3M1017.8 1355.5v3M1019.7 1355.5v3M1021.3 1355.5v3M1022.7 1355.5v3M1023.9 1355.5v3M1028.9 1355.5v3M1031.2 1355.5v3M1032.8 1355.5v3M1034.1 1355.5v3M1035.1 1355.5v3M1036 1355.5v3M1036.7 1355.5v3M1037.4 1355.5v3" class="ftk"/><path d="M828.7 1332.9V1379.7H873.9" class="larr"/><path d="M828.7 1312.9l-11.3 22.3h22.6zM893.9 1379.7l-22.3 -11.3v22.6z" fill="#000"/><text transform="translate(836.8 1227) rotate(-90)" class="fl" text-anchor="middle">CD4 BV510</text><text x="914.8" y="1390.6" class="fl">CD3 BUV737</text></g>
<g><g><g filter="url(#pc5)"><ellipse cx="195.5" cy="1607.3" rx="25.5" ry="43.5" fill="url(#G)" fill-opacity="0.97"/><ellipse cx="196" cy="1603" rx="42" ry="72" fill="url(#G)" fill-opacity="0.2"/><ellipse cx="200" cy="1565" rx="22" ry="45" fill="url(#F)" fill-opacity="0.11"/><ellipse cx="260" cy="1605" rx="95" ry="32" fill="url(#F)" fill-opacity="0.1"/><ellipse cx="250" cy="1540" rx="100" ry="95" fill="url(#F)" fill-opacity="0.04"/></g></g><rect x="169.4" y="1483" width="170.1" height="92" class="gate"/><path d="M169.4 1447.1V1637.1H351.8" class="fax"/><path d="M169.4 1620h-4.6M169.4 1591.6h-4.6M169.4 1504.4h-4.6M169.4 1468.4h-4.6M169.4 1632h-2.6M169.4 1629h-2.6M169.4 1626.8h-2.6M169.4 1625.2h-2.6M169.4 1623.8h-2.6M169.4 1622.7h-2.6M169.4 1621.7h-2.6M169.4 1620.8h-2.6M169.4 1611.5h-2.6M169.4 1606.5h-2.6M169.4 1602.9h-2.6M169.4 1600.2h-2.6M169.4 1597.9h-2.6M169.4 1596h-2.6M169.4 1594.4h-2.6M169.4 1592.9h-2.6M169.4 1565.4h-2.6M169.4 1550h-2.6M169.4 1539.1h-2.6M169.4 1530.7h-2.6M169.4 1523.8h-2.6M169.4 1518h-2.6M169.4 1512.9h-2.6M169.4 1508.4h-2.6M169.4 1493.6h-2.6M169.4 1487.3h-2.6M169.4 1482.8h-2.6M169.4 1479.3h-2.6M169.4 1476.4h-2.6M169.4 1474h-2.6M169.4 1471.9h-2.6M169.4 1470.1h-2.6M169.4 1462.2h-2.6M169.4 1458.5h-2.6M169.4 1455.9h-2.6M169.4 1453.9h-2.6M169.4 1452.2h-2.6M169.4 1450.8h-2.6M169.4 1449.6h-2.6M169.4 1448.6h-2.6M218.5 1637.1v5M285.8 1637.1v5M314.9 1637.1v5M338.6 1637.1v5M184.2 1637.1v3M192.8 1637.1v3M199 1637.1v3M203.7 1637.1v3M207.6 1637.1v3M210.9 1637.1v3M213.8 1637.1v3M216.3 1637.1v3M238.8 1637.1v3M250.6 1637.1v3M259 1637.1v3M265.6 1637.1v3M270.9 1637.1v3M275.4 1637.1v3M279.3 1637.1v3M282.7 1637.1v3M294.6 1637.1v3M299.7 1637.1v3M303.3 1637.1v3M306.2 1637.1v3M308.5 1637.1v3M310.4 1637.1v3M312.1 1637.1v3M313.6 1637.1v3M322 1637.1v3M326.2 1637.1v3M329.2 1637.1v3M331.4 1637.1v3M333.3 1637.1v3M334.9 1637.1v3M336.3 1637.1v3M337.5 1637.1v3M342.4 1637.1v3M344.6 1637.1v3M346.2 1637.1v3M347.5 1637.1v3M348.5 1637.1v3M349.3 1637.1v3M350.1 1637.1v3M350.7 1637.1v3" class="ftk"/><path d="M148.9 1623.5V1669.7H194.5" class="larr"/><path d="M148.9 1603.5l-11.3 22.3h22.6zM214.5 1669.7l-22.3 -11.3v22.6z" fill="#000"/><text transform="translate(156.8 1524.5) rotate(-90)" class="fl" text-anchor="middle">IL-9 BV421</text><text x="232.3" y="1682" class="fl">IL-10 APC</text><text x="278.2" y="1506.5" class="ft">Th9</text><text x="278.2" y="1536.8" class="ft">0.7%</text></g>
<g><g><g filter="url(#pc6)"><ellipse cx="491.3" cy="1609.7" rx="29.4" ry="37.5" fill="url(#G)" fill-opacity="0.97"/><ellipse cx="491.5" cy="1608" rx="48" ry="60" fill="url(#G)" fill-opacity="0.2"/><ellipse cx="493" cy="1531" rx="19" ry="58" fill="url(#F)" fill-opacity="0.43"/><ellipse cx="492" cy="1582" rx="24" ry="42" fill="url(#G)" fill-opacity="0.2"/><ellipse cx="540" cy="1605" rx="62" ry="27" fill="url(#F)" fill-opacity="0.1"/></g></g><rect x="470" y="1465.6" width="49.5" height="111.5" class="gate"/><rect x="470.6" y="1580.6" width="127.1" height="56.2" class="gate"/><path d="M463.9 1447.1V1637.1H646.6" class="fax"/><path d="M463.9 1620h-4.6M463.9 1591.6h-4.6M463.9 1504.4h-4.6M463.9 1468.4h-4.6M463.9 1632h-2.6M463.9 1629h-2.6M463.9 1626.8h-2.6M463.9 1625.2h-2.6M463.9 1623.8h-2.6M463.9 1622.7h-2.6M463.9 1621.7h-2.6M463.9 1620.8h-2.6M463.9 1611.5h-2.6M463.9 1606.5h-2.6M463.9 1602.9h-2.6M463.9 1600.2h-2.6M463.9 1597.9h-2.6M463.9 1596h-2.6M463.9 1594.4h-2.6M463.9 1592.9h-2.6M463.9 1565.4h-2.6M463.9 1550h-2.6M463.9 1539.1h-2.6M463.9 1530.7h-2.6M463.9 1523.8h-2.6M463.9 1518h-2.6M463.9 1512.9h-2.6M463.9 1508.4h-2.6M463.9 1493.6h-2.6M463.9 1487.3h-2.6M463.9 1482.8h-2.6M463.9 1479.3h-2.6M463.9 1476.4h-2.6M463.9 1474h-2.6M463.9 1471.9h-2.6M463.9 1470.1h-2.6M463.9 1462.2h-2.6M463.9 1458.5h-2.6M463.9 1455.9h-2.6M463.9 1453.9h-2.6M463.9 1452.2h-2.6M463.9 1450.8h-2.6M463.9 1449.6h-2.6M463.9 1448.6h-2.6M513.1 1637.1v5M580.5 1637.1v5M609.7 1637.1v5M633.3 1637.1v5M478.7 1637.1v3M487.4 1637.1v3M493.5 1637.1v3M498.3 1637.1v3M502.2 1637.1v3M505.5 1637.1v3M508.3 1637.1v3M510.8 1637.1v3M533.4 1637.1v3M545.3 1637.1v3M553.7 1637.1v3M560.2 1637.1v3M565.6 1637.1v3M570.1 1637.1v3M574 1637.1v3M577.4 1637.1v3M589.3 1637.1v3M594.4 1637.1v3M598.1 1637.1v3M600.9 1637.1v3M603.2 1637.1v3M605.1 1637.1v3M606.8 1637.1v3M608.3 1637.1v3M616.8 1637.1v3M621 1637.1v3M623.9 1637.1v3M626.2 1637.1v3M628.1 1637.1v3M629.7 1637.1v3M631.1 1637.1v3M632.3 1637.1v3M637.2 1637.1v3M639.4 1637.1v3M641 1637.1v3M642.3 1637.1v3M643.3 1637.1v3M644.1 1637.1v3M644.9 1637.1v3M645.5 1637.1v3" class="ftk"/><path d="M430.3 1623.5V1669.7H475.8" class="larr"/><path d="M430.3 1603.5l-11.3 22.3h22.6zM495.8 1669.7l-22.3 -11.3v22.6z" fill="#000"/><text transform="translate(443.2 1517) rotate(-90)" class="fl" text-anchor="middle">IFN-g- FITC</text><text x="505.8" y="1682" class="fl">IL-10 APC</text><text x="539.7" y="1507.7" class="ft">Th1</text><text x="539.7" y="1537.9" class="ft">14%</text></g>
<g><g><g filter="url(#pc7)"><ellipse cx="804.5" cy="1614" rx="42" ry="31.5" fill="url(#G)" fill-opacity="0.97"/><ellipse cx="804" cy="1612" rx="75" ry="51" fill="url(#G)" fill-opacity="0.22"/><ellipse cx="796" cy="1535" rx="24" ry="58" fill="url(#F)" fill-opacity="0.26"/><ellipse cx="800" cy="1592" rx="42" ry="42" fill="url(#G)" fill-opacity="0.12"/><ellipse cx="885" cy="1592" rx="45" ry="28" fill="url(#F)" fill-opacity="0.11"/></g></g><rect x="770.3" y="1581.7" width="72.9" height="51" class="gate"/><path d="M769 1446.8V1637H953.4" class="fax"/><path d="M769 1619.9h-4.6M769 1591.5h-4.6M769 1504.2h-4.6M769 1468.2h-4.6M769 1631.9h-2.6M769 1628.9h-2.6M769 1626.7h-2.6M769 1625.1h-2.6M769 1623.7h-2.6M769 1622.6h-2.6M769 1621.6h-2.6M769 1620.7h-2.6M769 1611.4h-2.6M769 1606.4h-2.6M769 1602.8h-2.6M769 1600h-2.6M769 1597.8h-2.6M769 1595.9h-2.6M769 1594.2h-2.6M769 1592.8h-2.6M769 1565.2h-2.6M769 1549.8h-2.6M769 1538.9h-2.6M769 1530.5h-2.6M769 1523.6h-2.6M769 1517.7h-2.6M769 1512.7h-2.6M769 1508.2h-2.6M769 1493.4h-2.6M769 1487h-2.6M769 1482.5h-2.6M769 1479h-2.6M769 1476.2h-2.6M769 1473.8h-2.6M769 1471.7h-2.6M769 1469.8h-2.6M769 1461.9h-2.6M769 1458.2h-2.6M769 1455.6h-2.6M769 1453.6h-2.6M769 1451.9h-2.6M769 1450.5h-2.6M769 1449.3h-2.6M769 1448.3h-2.6M818.7 1637v5M886.7 1637v5M916.1 1637v5M940 1637v5M783.9 1637v3M792.7 1637v3M798.9 1637v3M803.7 1637v3M807.6 1637v3M811 1637v3M813.8 1637v3M816.4 1637v3M839.1 1637v3M851.1 1637v3M859.6 1637v3M866.2 1637v3M871.6 1637v3M876.2 1637v3M880.1 1637v3M883.6 1637v3M895.6 1637v3M900.7 1637v3M904.4 1637v3M907.3 1637v3M909.6 1637v3M911.6 1637v3M913.3 1637v3M914.8 1637v3M923.3 1637v3M927.5 1637v3M930.5 1637v3M932.8 1637v3M934.7 1637v3M936.3 1637v3M937.7 1637v3M938.9 1637v3M943.9 1637v3M946.2 1637v3M947.8 1637v3M949 1637v3M950 1637v3M950.9 1637v3M951.7 1637v3M952.3 1637v3" class="ftk"/><path d="M736.8 1623.2V1669.9H782.4" class="larr"/><path d="M736.8 1603.2l-11.3 22.3h22.6zM802.4 1669.9l-22.3 -11.3v22.6z" fill="#000"/><text transform="translate(747.1 1550) rotate(-90)" class="fl" text-anchor="middle">IL-4 PE</text><text x="817" y="1681.7" class="fl">IL-17 PE-Cy7</text></g>
<g><g><g filter="url(#pc8)"><ellipse cx="491.3" cy="1869.5" rx="28.5" ry="30.9" fill="url(#G)" fill-opacity="0.97"/><ellipse cx="491.5" cy="1868" rx="48" ry="51" fill="url(#G)" fill-opacity="0.2"/><ellipse cx="491.5" cy="1795" rx="15" ry="60" fill="url(#F)" fill-opacity="0.27"/><ellipse cx="492" cy="1850" rx="27" ry="42" fill="url(#G)" fill-opacity="0.12"/><ellipse cx="550" cy="1866" rx="55" ry="16" fill="url(#F)" fill-opacity="0.11"/></g></g><rect x="470" y="1737.3" width="149.5" height="97.9" class="gate"/><path d="M463.9 1704V1891.6H647" class="fax"/><path d="M463.9 1874.8h-4.6M463.9 1846.7h-4.6M463.9 1760.6h-4.6M463.9 1725.1h-4.6M463.9 1886.5h-2.6M463.9 1883.6h-2.6M463.9 1881.5h-2.6M463.9 1879.8h-2.6M463.9 1878.5h-2.6M463.9 1877.4h-2.6M463.9 1876.4h-2.6M463.9 1875.5h-2.6M463.9 1866.3h-2.6M463.9 1861.4h-2.6M463.9 1857.9h-2.6M463.9 1855.1h-2.6M463.9 1852.9h-2.6M463.9 1851h-2.6M463.9 1849.4h-2.6M463.9 1848h-2.6M463.9 1820.8h-2.6M463.9 1805.6h-2.6M463.9 1794.9h-2.6M463.9 1786.5h-2.6M463.9 1779.7h-2.6M463.9 1774h-2.6M463.9 1769h-2.6M463.9 1764.6h-2.6M463.9 1749.9h-2.6M463.9 1743.7h-2.6M463.9 1739.2h-2.6M463.9 1735.8h-2.6M463.9 1733h-2.6M463.9 1730.6h-2.6M463.9 1728.5h-2.6M463.9 1726.7h-2.6M463.9 1718.9h-2.6M463.9 1715.3h-2.6M463.9 1712.7h-2.6M463.9 1710.7h-2.6M463.9 1709.1h-2.6M463.9 1707.7h-2.6M463.9 1706.5h-2.6M463.9 1705.4h-2.6M513.2 1891.6v5M580.8 1891.6v5M610 1891.6v5M633.7 1891.6v5M478.7 1891.6v3M487.4 1891.6v3M493.6 1891.6v3M498.4 1891.6v3M502.3 1891.6v3M505.6 1891.6v3M508.4 1891.6v3M510.9 1891.6v3M533.5 1891.6v3M545.4 1891.6v3M553.9 1891.6v3M560.4 1891.6v3M565.8 1891.6v3M570.3 1891.6v3M574.2 1891.6v3M577.7 1891.6v3M589.6 1891.6v3M594.7 1891.6v3M598.4 1891.6v3M601.2 1891.6v3M603.5 1891.6v3M605.5 1891.6v3M607.1 1891.6v3M608.6 1891.6v3M617.1 1891.6v3M621.3 1891.6v3M624.3 1891.6v3M626.6 1891.6v3M628.5 1891.6v3M630 1891.6v3M631.4 1891.6v3M632.6 1891.6v3M637.6 1891.6v3M639.8 1891.6v3M641.4 1891.6v3M642.7 1891.6v3M643.7 1891.6v3M644.5 1891.6v3M645.3 1891.6v3M645.9 1891.6v3" class="ftk"/><path d="M428.7 1874.2V1920.6H474.2" class="larr"/><path d="M428.7 1854.2l-11.3 22.3h22.6zM494.2 1920.6l-22.3 -11.3v22.6z" fill="#000"/><text transform="translate(441 1798.8) rotate(-90)" class="fl" text-anchor="middle">IL-4 PE</text><text x="505" y="1931.9" class="fl">IL-10 APC</text><text x="542.1" y="1763.9" class="ft">Th2</text><text x="542.1" y="1794.8" class="ft">2.1%</text></g>
<g><g><g filter="url(#pc9)"><ellipse cx="804.5" cy="1864.9" rx="42" ry="40.8" fill="url(#G)" fill-opacity="0.97"/><ellipse cx="804" cy="1864" rx="72" ry="66" fill="url(#G)" fill-opacity="0.22"/><ellipse cx="804" cy="1787" rx="24" ry="52" fill="url(#F)" fill-opacity="0.44"/><ellipse cx="804" cy="1828" rx="27" ry="42" fill="url(#G)" fill-opacity="0.2"/><ellipse cx="880" cy="1850" rx="50" ry="40" fill="url(#F)" fill-opacity="0.09"/><ellipse cx="860" cy="1790" rx="80" ry="80" fill="url(#F)" fill-opacity="0.05"/></g></g><rect x="772.3" y="1833.5" width="92" height="58.3" class="gate"/><path d="M769 1703.8V1892.3H953.4" class="fax"/><path d="M769 1875.4h-4.6M769 1847.2h-4.6M769 1760.7h-4.6M769 1725h-4.6M769 1887.2h-2.6M769 1884.2h-2.6M769 1882.1h-2.6M769 1880.5h-2.6M769 1879.1h-2.6M769 1878h-2.6M769 1877h-2.6M769 1876.2h-2.6M769 1866.9h-2.6M769 1861.9h-2.6M769 1858.4h-2.6M769 1855.7h-2.6M769 1853.4h-2.6M769 1851.5h-2.6M769 1849.9h-2.6M769 1848.5h-2.6M769 1821.1h-2.6M769 1805.9h-2.6M769 1795.1h-2.6M769 1786.7h-2.6M769 1779.9h-2.6M769 1774.1h-2.6M769 1769.1h-2.6M769 1764.7h-2.6M769 1749.9h-2.6M769 1743.7h-2.6M769 1739.2h-2.6M769 1735.7h-2.6M769 1732.9h-2.6M769 1730.5h-2.6M769 1728.4h-2.6M769 1726.6h-2.6M769 1718.8h-2.6M769 1715.1h-2.6M769 1712.5h-2.6M769 1710.5h-2.6M769 1708.9h-2.6M769 1707.5h-2.6M769 1706.3h-2.6M769 1705.2h-2.6M818.7 1892.3v5M886.7 1892.3v5M916.1 1892.3v5M940 1892.3v5M783.9 1892.3v3M792.7 1892.3v3M798.9 1892.3v3M803.7 1892.3v3M807.6 1892.3v3M811 1892.3v3M813.8 1892.3v3M816.4 1892.3v3M839.1 1892.3v3M851.1 1892.3v3M859.6 1892.3v3M866.2 1892.3v3M871.6 1892.3v3M876.2 1892.3v3M880.1 1892.3v3M883.6 1892.3v3M895.6 1892.3v3M900.7 1892.3v3M904.4 1892.3v3M907.3 1892.3v3M909.6 1892.3v3M911.6 1892.3v3M913.3 1892.3v3M914.8 1892.3v3M923.3 1892.3v3M927.5 1892.3v3M930.5 1892.3v3M932.8 1892.3v3M934.7 1892.3v3M936.3 1892.3v3M937.7 1892.3v3M938.9 1892.3v3M943.9 1892.3v3M946.2 1892.3v3M947.8 1892.3v3M949 1892.3v3M950 1892.3v3M950.9 1892.3v3M951.7 1892.3v3M952.3 1892.3v3" class="ftk"/><path d="M734.6 1873.8V1920.4H780.2" class="larr"/><path d="M734.6 1853.8l-11.3 22.3h22.6zM800.2 1920.4l-22.3 -11.3v22.6z" fill="#000"/><text transform="translate(742.8 1783.5) rotate(-90)" class="fl" text-anchor="middle">IFNg FITC</text><text x="813.1" y="1929.5" class="fl">IL-17 PE-Cy7</text></g>
<g><g><g filter="url(#pc10)"><ellipse cx="487.3" cy="2115.2" rx="28.5" ry="41.4" fill="url(#G)" fill-opacity="0.97"/><ellipse cx="488" cy="2113" rx="48" ry="66" fill="url(#G)" fill-opacity="0.2"/><ellipse cx="492" cy="2070" rx="15" ry="25" fill="url(#F)" fill-opacity="0.1"/><ellipse cx="488" cy="2022" rx="12" ry="28" fill="url(#F)" fill-opacity="0.11"/><ellipse cx="550" cy="2095" rx="65" ry="35" fill="url(#F)" fill-opacity="0.095"/></g></g><rect x="470.8" y="1984.5" width="52.3" height="73.4" class="gate"/><path d="M463.9 1958.2V2146.6H647" class="fax"/><path d="M463.9 2129.7h-4.6M463.9 2101.5h-4.6M463.9 2015.1h-4.6M463.9 1979.4h-4.6M463.9 2141.5h-2.6M463.9 2138.5h-2.6M463.9 2136.4h-2.6M463.9 2134.8h-2.6M463.9 2133.4h-2.6M463.9 2132.3h-2.6M463.9 2131.3h-2.6M463.9 2130.5h-2.6M463.9 2121.2h-2.6M463.9 2116.2h-2.6M463.9 2112.7h-2.6M463.9 2110h-2.6M463.9 2107.8h-2.6M463.9 2105.9h-2.6M463.9 2104.2h-2.6M463.9 2102.8h-2.6M463.9 2075.5h-2.6M463.9 2060.3h-2.6M463.9 2049.5h-2.6M463.9 2041.1h-2.6M463.9 2034.2h-2.6M463.9 2028.5h-2.6M463.9 2023.4h-2.6M463.9 2019h-2.6M463.9 2004.3h-2.6M463.9 1998h-2.6M463.9 1993.6h-2.6M463.9 1990.1h-2.6M463.9 1987.3h-2.6M463.9 1984.9h-2.6M463.9 1982.8h-2.6M463.9 1981h-2.6M463.9 1973.1h-2.6M463.9 1969.5h-2.6M463.9 1966.9h-2.6M463.9 1964.9h-2.6M463.9 1963.3h-2.6M463.9 1961.9h-2.6M463.9 1960.7h-2.6M463.9 1959.6h-2.6M513.2 2146.6v5M580.8 2146.6v5M610 2146.6v5M633.7 2146.6v5M478.7 2146.6v3M487.4 2146.6v3M493.6 2146.6v3M498.4 2146.6v3M502.3 2146.6v3M505.6 2146.6v3M508.4 2146.6v3M510.9 2146.6v3M533.5 2146.6v3M545.4 2146.6v3M553.9 2146.6v3M560.4 2146.6v3M565.8 2146.6v3M570.3 2146.6v3M574.2 2146.6v3M577.7 2146.6v3M589.6 2146.6v3M594.7 2146.6v3M598.4 2146.6v3M601.2 2146.6v3M603.5 2146.6v3M605.5 2146.6v3M607.1 2146.6v3M608.6 2146.6v3M617.1 2146.6v3M621.3 2146.6v3M624.3 2146.6v3M626.6 2146.6v3M628.5 2146.6v3M630 2146.6v3M631.4 2146.6v3M632.6 2146.6v3M637.6 2146.6v3M639.8 2146.6v3M641.4 2146.6v3M642.7 2146.6v3M643.7 2146.6v3M644.5 2146.6v3M645.3 2146.6v3M645.9 2146.6v3" class="ftk"/><path d="M428.7 2128.4V2174.8H474.2" class="larr"/><path d="M428.7 2108.4l-11.3 22.3h22.6zM494.2 2174.8l-22.3 -11.3v22.6z" fill="#000"/><text transform="translate(440 2018.8) rotate(-90)" class="fl" text-anchor="middle">IL-17 PE-Cy7</text><text x="504.5" y="2186.1" class="fl">IL-10 APC</text><text x="542.9" y="2001.5" class="ft">Th17</text><text x="542.9" y="2031.6" class="ft">0.1%</text></g>
<g><g><g filter="url(#pc11)"><ellipse cx="789.7" cy="2120" rx="30.6" ry="40.8" fill="url(#G)" fill-opacity="0.97"/><ellipse cx="790" cy="2118" rx="51" ry="63" fill="url(#G)" fill-opacity="0.2"/><ellipse cx="789" cy="2042" rx="13" ry="48" fill="url(#F)" fill-opacity="0.43"/><ellipse cx="789" cy="2090" rx="21" ry="36" fill="url(#G)" fill-opacity="0.2"/><ellipse cx="858" cy="2118" rx="58" ry="16" fill="url(#F)" fill-opacity="0.27"/><ellipse cx="850" cy="2050" rx="62" ry="55" fill="url(#F)" fill-opacity="0.1"/></g></g><rect x="769.7" y="2081.7" width="60.8" height="63.7" class="gate"/><path d="M769 1957.8V2146.2H953.4" class="fax"/><path d="M769 2129.3h-4.6M769 2101.1h-4.6M769 2014.7h-4.6M769 1979h-4.6M769 2141.1h-2.6M769 2138.1h-2.6M769 2136h-2.6M769 2134.4h-2.6M769 2133h-2.6M769 2131.9h-2.6M769 2130.9h-2.6M769 2130.1h-2.6M769 2120.8h-2.6M769 2115.8h-2.6M769 2112.3h-2.6M769 2109.6h-2.6M769 2107.4h-2.6M769 2105.5h-2.6M769 2103.8h-2.6M769 2102.4h-2.6M769 2075.1h-2.6M769 2059.9h-2.6M769 2049.1h-2.6M769 2040.7h-2.6M769 2033.8h-2.6M769 2028.1h-2.6M769 2023h-2.6M769 2018.6h-2.6M769 2003.9h-2.6M769 1997.6h-2.6M769 1993.2h-2.6M769 1989.7h-2.6M769 1986.9h-2.6M769 1984.5h-2.6M769 1982.4h-2.6M769 1980.6h-2.6M769 1972.7h-2.6M769 1969.1h-2.6M769 1966.5h-2.6M769 1964.5h-2.6M769 1962.9h-2.6M769 1961.5h-2.6M769 1960.3h-2.6M769 1959.2h-2.6M818.7 2146.2v5M886.7 2146.2v5M916.1 2146.2v5M940 2146.2v5M783.9 2146.2v3M792.7 2146.2v3M798.9 2146.2v3M803.7 2146.2v3M807.6 2146.2v3M811 2146.2v3M813.8 2146.2v3M816.4 2146.2v3M839.1 2146.2v3M851.1 2146.2v3M859.6 2146.2v3M866.2 2146.2v3M871.6 2146.2v3M876.2 2146.2v3M880.1 2146.2v3M883.6 2146.2v3M895.6 2146.2v3M900.7 2146.2v3M904.4 2146.2v3M907.3 2146.2v3M909.6 2146.2v3M911.6 2146.2v3M913.3 2146.2v3M914.8 2146.2v3M923.3 2146.2v3M927.5 2146.2v3M930.5 2146.2v3M932.8 2146.2v3M934.7 2146.2v3M936.3 2146.2v3M937.7 2146.2v3M938.9 2146.2v3M943.9 2146.2v3M946.2 2146.2v3M947.8 2146.2v3M949 2146.2v3M950 2146.2v3M950.9 2146.2v3M951.7 2146.2v3M952.3 2146.2v3" class="ftk"/><path d="M734.6 2128.2V2174.8H780.2" class="larr"/><path d="M734.6 2108.2l-11.3 22.3h22.6zM800.2 2174.8l-22.3 -11.3v22.6z" fill="#000"/><text transform="translate(742.8 2036.7) rotate(-90)" class="fl" text-anchor="middle">IFNg FITC</text><text x="813.1" y="2182.8" class="fl">IL-4 PE</text></g>
<text transform="translate(8.5 24.2) scale(1.13 1)" class="pl">a.</text><text transform="translate(-2 1115.7) scale(1.13 1)" class="pl">b.</text><text transform="translate(1097.5 1139) scale(1.13 1)" class="pl">c.</text><text transform="translate(51 290) rotate(-90)" class="yl">% of CD8<tspan dy="-10" font-size="22">+</tspan><tspan dy="10"> cells</tspan></text><text transform="translate(49.7 797) rotate(-90)" class="yl">% of CD4<tspan dy="-10" font-size="22">+</tspan><tspan dy="10"> cells</tspan></text><text transform="translate(1130.6 1409) rotate(-90)" class="yl">% of CD4<tspan dy="-10" font-size="22">+</tspan><tspan dy="10"> cells</tspan></text><text transform="translate(1126.6 1925) rotate(-90)" class="yl">% of CD4<tspan dy="-10" font-size="22">+</tspan><tspan dy="10"> cells</tspan></text><circle cx="1653.2" cy="71.8" r="11" fill="#e0e0e0" stroke="#000" stroke-width="3"/><circle cx="1653.2" cy="111.6" r="10.7" fill="#ece83a"/><circle cx="1653.2" cy="115.6" r="11" fill="none" stroke="#000" stroke-width="3"/><circle cx="1653.2" cy="153.8" r="11" fill="#1f3f6e" stroke="#000" stroke-width="3"/><text x="1678.6" y="80.1" class="lg">FER</text><text x="1678.6" y="125" class="lg">OAT</text><text x="1678.6" y="170.7" class="lg">NOA</text><circle cx="1947.5" cy="1186.8" r="11" fill="#e0e0e0" stroke="#000" stroke-width="3"/><circle cx="1947.5" cy="1226.4" r="10.7" fill="#ece83a"/><circle cx="1947.5" cy="1230.4" r="11" fill="none" stroke="#000" stroke-width="3"/><circle cx="1947.5" cy="1268.7" r="11" fill="#1f3f6e" stroke="#000" stroke-width="3"/><text x="1972.3" y="1195" class="lg">FER</text><text x="1972.3" y="1239.7" class="lg">OAT</text><text x="1972.3" y="1285.8" class="lg">NOA</text><path d="M182.7 1255.3H251.2" class="arl"/><path d="M271.2 1255.3l-23 -11.6v23.2z" fill="#000"/><path d="M449.9 1255.3H517.2" class="arl"/><path d="M537.2 1255.3l-23 -11.6v23.2z" fill="#000"/><path d="M714 1331.7H783" class="arl"/><path d="M803 1331.7l-23 -11.6v23.2z" fill="#000"/><path d="M1032 1410V2061.6" stroke="#000" stroke-width="3.7" fill="none"/><text x="52.6" y="1246.5" font-size="10" font-weight="bold">,</text><text x="571.6" y="1246" font-size="10" font-weight="bold">,</text><path d="M959.6 1555.3H1032" class="arl"/><path d="M939.6 1555.3l23 -11.6v23.2z" fill="#000"/><path d="M959.6 1821.3H1032" class="arl"/><path d="M939.6 1821.3l23 -11.6v23.2z" fill="#000"/><path d="M959.6 2060.2H1032" class="arl"/><path d="M939.6 2060.2l23 -11.6v23.2z" fill="#000"/><path d="M646 1601.4H714.2" class="arl"/><path d="M626 1601.4l23 -11.6v23.2z" fill="#000"/><path d="M330.5 1605.2H398.5" class="arl"/><path d="M310.5 1605.2l23 -11.6v23.2z" fill="#000"/><path d="M646 1853.5H714.2" class="arl"/><path d="M626 1853.5l23 -11.6v23.2z" fill="#000"/><path d="M646 2107.8H714.2" class="arl"/><path d="M626 2107.8l23 -11.6v23.2z" fill="#000"/>
</svg>
</body></html>
